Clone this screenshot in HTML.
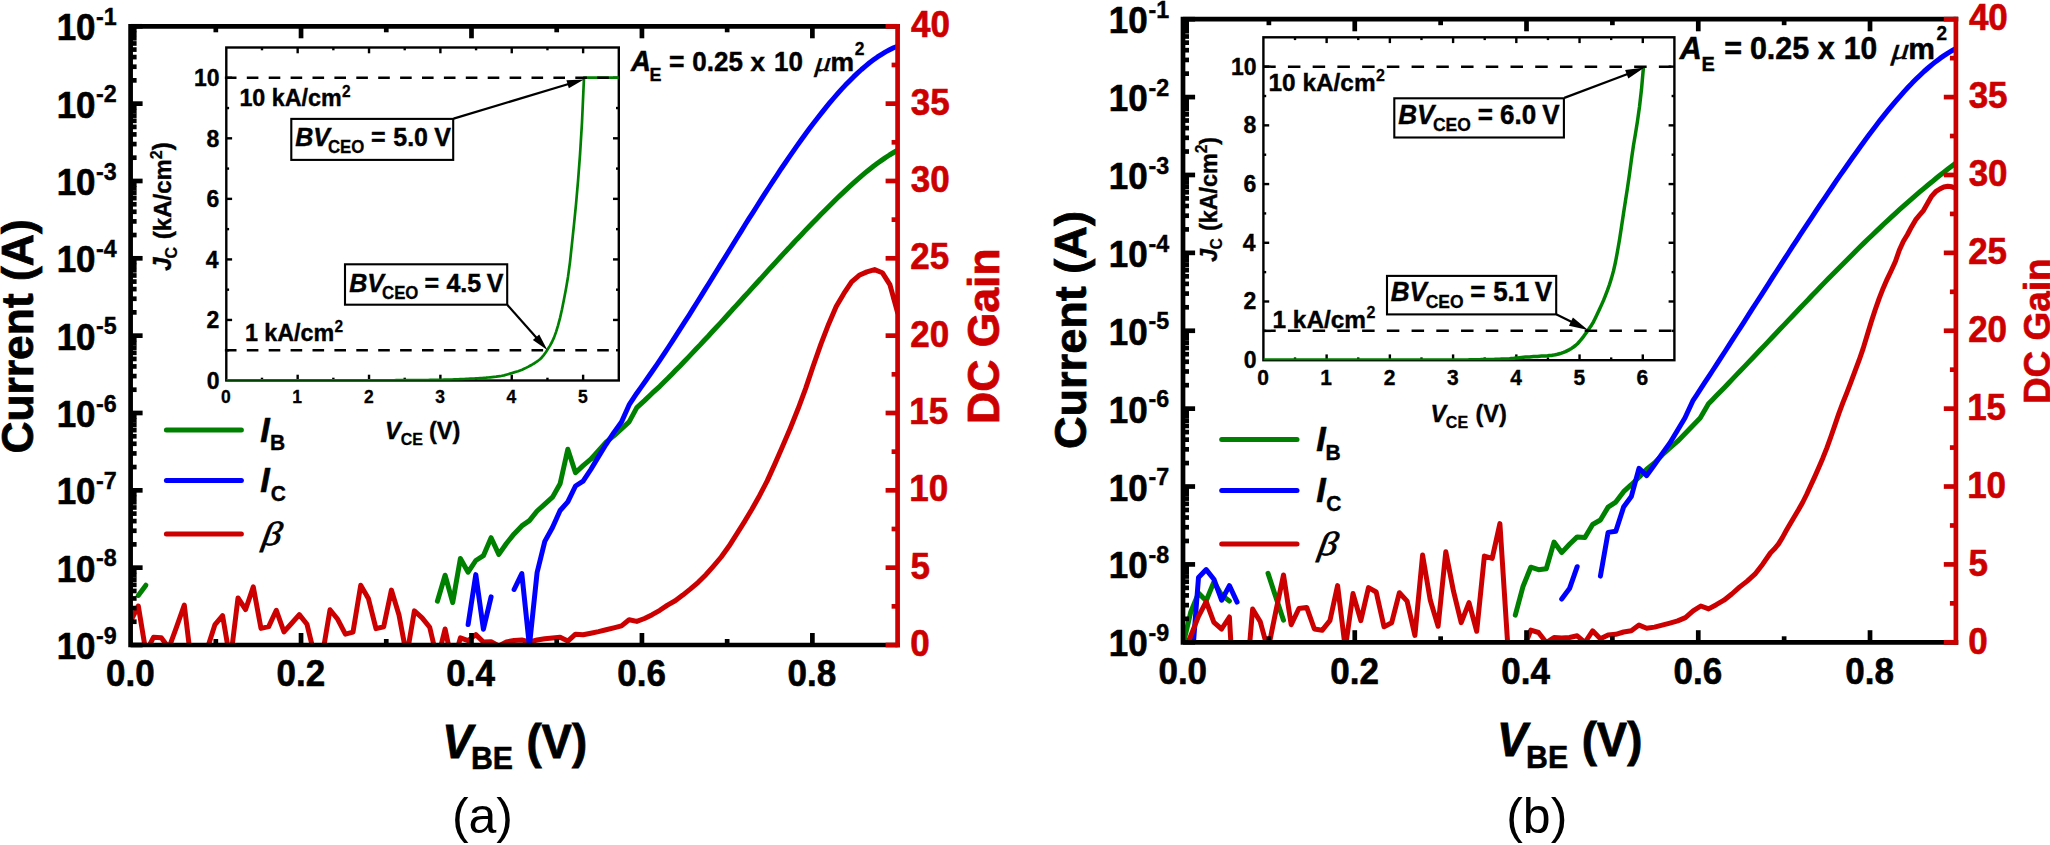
<!DOCTYPE html>
<html><head><meta charset="utf-8"><title>Gummel plots and BVCEO</title>
<style>
html,body{margin:0;padding:0;background:#fff}
body{width:2050px;height:845px;overflow:hidden}
svg{display:block}
text{font-family:"Liberation Sans",sans-serif}
.fb{font-weight:bold}
.fbi{font-weight:bold;font-style:italic}
.fr{font-weight:normal}
.fi{font-style:italic}
.fsi{font-family:"Liberation Serif",serif;font-style:italic}
.fsbi{font-family:"Liberation Serif",serif;font-style:italic;font-weight:bold}
</style></head><body>
<svg width="2050" height="845" viewBox="0 0 2050 845">
<defs>
<clipPath id="ca"><rect x="130.60" y="26.30" width="767.00" height="618.70"/></clipPath>
<clipPath id="cb"><rect x="1183.00" y="19.20" width="772.90" height="623.10"/></clipPath>
<clipPath id="cia"><rect x="226.3" y="47.5" width="392.5" height="333.0"/></clipPath>
<clipPath id="cib"><rect x="1263.4" y="37.3" width="411.0" height="322.9"/></clipPath>
</defs>
<rect width="2050" height="845" fill="#fff"/>
<g id="pa">
<path d="M130.6,621.0 L138.3,606.0 L145.9,652.0 L153.6,637.2 L161.3,637.7 L168.9,648.0 L176.6,626.8 L184.3,605.0 L192.0,669.0 L199.6,655.0 L207.3,648.5 L215.0,624.6 L222.6,615.6 L230.3,661.0 L238.0,598.0 L245.6,609.5 L253.3,586.9 L261.0,628.4 L268.7,626.6 L276.3,610.3 L284.0,631.8 L291.7,623.3 L299.3,614.6 L307.0,624.3 L314.7,656.0 L322.4,655.0 L330.0,609.8 L337.7,619.3 L345.4,634.2 L353.0,632.1 L360.7,585.3 L368.4,598.5 L376.0,628.6 L383.7,626.8 L391.4,590.1 L399.0,615.0 L406.7,656.0 L414.4,610.9 L422.1,617.9 L429.7,627.3 L437.4,660.0 L445.1,629.0 L452.7,665.0 L460.4,637.9 L468.1,640.6 L475.8,634.6 L483.4,642.0 L491.1,641.8 L498.8,646.0 L506.4,642.0 L514.1,640.4 L521.8,640.0 L529.4,641.9 L537.1,640.0 L544.8,638.7 L552.5,638.0 L560.1,637.2 L567.8,641.1 L575.5,634.2 L583.1,634.8 L590.8,633.2 L598.5,631.6 L606.1,629.8 L613.8,627.8 L621.5,625.9 L629.1,619.7 L636.8,621.4 L644.5,618.5 L652.2,614.7 L659.8,610.3 L667.5,605.1 L675.2,600.8 L682.8,595.1 L690.5,588.9 L698.2,582.3 L705.9,574.7 L713.5,566.1 L721.2,557.0 L728.9,546.3 L736.5,534.3 L744.2,522.1 L751.9,509.3 L759.5,495.7 L767.2,480.9 L774.9,463.9 L782.6,446.3 L790.2,428.4 L797.9,409.3 L805.6,388.6 L813.2,366.0 L820.9,344.2 L828.6,324.2 L836.2,306.5 L843.9,293.4 L851.6,281.9 L859.2,275.3 L866.9,271.9 L874.6,269.6 L882.3,272.7 L889.9,284.7 L897.6,312.5" fill="none" stroke="#cc0000" stroke-width="5.00" stroke-linejoin="round" stroke-linecap="round" clip-path="url(#ca)"/>
<path d="M138.3,595.4 L145.9,585.2" fill="none" stroke="#008000" stroke-width="5.00" stroke-linejoin="round" stroke-linecap="round" clip-path="url(#ca)"/>
<path d="M437.4,601.2 L445.1,575.2 L452.7,602.5 L460.4,558.5 L468.1,572.2 L475.8,560.5 L483.4,555.7 L491.1,537.7 L498.8,554.4 L506.4,543.5 L514.1,533.9 L521.8,525.9 L529.4,520.6 L537.1,511.0 L544.8,504.1 L552.5,497.2 L560.1,483.8 L567.8,449.2 L575.5,472.8 L583.1,465.6 L590.8,459.2 L598.5,450.7 L606.1,442.2 L613.8,435.8 L621.5,428.9 L629.1,421.9 L636.8,407.6 L644.5,400.6 L652.2,393.2 L659.8,386.3 L663.8,382.3 L667.9,378.3 L671.9,374.2 L675.9,370.1 L680.0,366.0 L684.0,361.8 L688.0,357.6 L692.0,353.4 L696.1,349.1 L700.1,344.9 L704.1,340.5 L708.2,336.2 L712.2,331.8 L716.2,327.5 L720.3,323.1 L724.3,318.7 L728.3,314.3 L732.3,309.8 L736.4,305.4 L740.4,301.0 L744.4,296.5 L748.5,292.1 L752.5,287.6 L756.5,283.2 L760.6,278.8 L764.6,274.3 L768.6,269.9 L772.7,265.5 L776.7,261.1 L780.7,256.8 L784.7,252.4 L788.8,248.1 L792.8,243.7 L796.8,239.4 L800.9,235.2 L804.9,230.9 L808.9,226.7 L813.0,222.5 L817.0,218.4 L821.0,214.3 L825.1,210.2 L829.1,206.2 L833.1,202.2 L837.1,198.3 L841.2,194.4 L845.2,190.6 L849.2,186.9 L853.3,183.2 L857.3,179.6 L861.3,176.1 L865.4,172.7 L869.4,169.5 L873.4,166.3 L877.4,163.3 L881.5,160.4 L885.5,157.6 L889.5,155.0 L893.6,152.5 L897.6,150.2" fill="none" stroke="#008000" stroke-width="5.00" stroke-linejoin="round" stroke-linecap="round" clip-path="url(#ca)"/>
<path d="M468.1,624.6 L475.8,574.6 L483.4,629.2 L491.1,596.9" fill="none" stroke="#0000ff" stroke-width="5.00" stroke-linejoin="round" stroke-linecap="round" clip-path="url(#ca)"/>
<path d="M514.1,589.5 L521.8,573.6 L529.4,646.0 L537.1,572.5 L544.8,541.4 L552.5,527.5 L560.1,510.5 L567.8,501.9 L575.5,486.0 L583.1,481.2 L590.8,469.5 L598.5,456.6 L606.1,444.3 L613.8,432.6 L621.5,422.0 L629.1,404.9 L636.8,393.2 L640.8,387.6 L644.8,382.0 L648.8,376.3 L652.8,370.5 L656.9,364.6 L660.9,358.7 L664.9,352.6 L668.9,346.5 L672.9,340.4 L676.9,334.2 L680.9,327.9 L684.9,321.6 L689.0,315.3 L693.0,308.9 L697.0,302.5 L701.0,296.1 L705.0,289.6 L709.0,283.2 L713.0,276.7 L717.0,270.2 L721.1,263.7 L725.1,257.2 L729.1,250.7 L733.1,244.2 L737.1,237.7 L741.1,231.3 L745.1,224.8 L749.1,218.4 L753.2,212.1 L757.2,205.7 L761.2,199.4 L765.2,193.2 L769.2,187.0 L773.2,180.8 L777.2,174.8 L781.2,168.7 L785.3,162.8 L789.3,156.9 L793.3,151.1 L797.3,145.4 L801.3,139.8 L805.3,134.2 L809.3,128.8 L813.3,123.5 L817.4,118.2 L821.4,113.1 L825.4,108.1 L829.4,103.2 L833.4,98.5 L837.4,93.9 L841.4,89.4 L845.4,85.1 L849.5,80.9 L853.5,76.9 L857.5,73.1 L861.5,69.5 L865.5,66.1 L869.5,62.8 L873.5,59.8 L877.5,56.9 L881.6,54.3 L885.6,51.9 L889.6,49.8 L893.6,47.8 L897.6,46.2" fill="none" stroke="#0000ff" stroke-width="5.00" stroke-linejoin="round" stroke-linecap="round" clip-path="url(#ca)"/>
</g>
<g id="pb">
<path d="M1183.0,645.2 L1190.7,612.2 L1198.5,593.1 L1206.2,600.7 L1213.9,581.9 L1221.6,595.1 L1229.4,601.0" fill="none" stroke="#008000" stroke-width="5.00" stroke-linejoin="round" stroke-linecap="round" clip-path="url(#cb)"/>
<path d="M1268.0,573.3 L1275.7,596.7 L1283.5,620.2" fill="none" stroke="#008000" stroke-width="5.00" stroke-linejoin="round" stroke-linecap="round" clip-path="url(#cb)"/>
<path d="M1515.3,615.2 L1523.1,586.2 L1530.8,567.2 L1538.5,569.7 L1546.3,568.7 L1554.0,542.1 L1561.7,552.6 L1569.5,544.3 L1577.2,536.9 L1584.9,537.6 L1592.6,524.5 L1600.4,520.0 L1608.1,507.1 L1615.8,502.1 L1623.6,491.7 L1631.3,484.7 L1639.0,477.3 L1646.7,469.3 L1654.5,462.9 L1662.2,454.9 L1669.9,448.0 L1677.7,441.2 L1700.2,418.0 L1708.5,403.8 L1712.5,399.7 L1716.5,395.6 L1720.5,391.5 L1724.5,387.4 L1728.5,383.2 L1732.4,379.1 L1736.4,374.9 L1740.4,370.8 L1744.4,366.6 L1748.4,362.4 L1752.4,358.2 L1756.4,354.0 L1760.4,349.8 L1764.4,345.6 L1768.4,341.4 L1772.3,337.2 L1776.3,333.0 L1780.3,328.8 L1784.3,324.6 L1788.3,320.4 L1792.3,316.2 L1796.3,312.0 L1800.3,307.8 L1804.3,303.6 L1808.3,299.5 L1812.2,295.3 L1816.2,291.2 L1820.2,287.1 L1824.2,282.9 L1828.2,278.8 L1832.2,274.8 L1836.2,270.7 L1840.2,266.7 L1844.2,262.7 L1848.2,258.7 L1852.2,254.7 L1856.1,250.7 L1860.1,246.8 L1864.1,242.9 L1868.1,239.0 L1872.1,235.2 L1876.1,231.4 L1880.1,227.6 L1884.1,223.8 L1888.1,220.1 L1892.1,216.4 L1896.0,212.8 L1900.0,209.2 L1904.0,205.6 L1908.0,202.1 L1912.0,198.6 L1916.0,195.1 L1920.0,191.7 L1924.0,188.3 L1928.0,185.0 L1932.0,181.8 L1935.9,178.5 L1939.9,175.3 L1943.9,172.2 L1947.9,169.1 L1951.9,166.1 L1955.9,163.1" fill="none" stroke="#008000" stroke-width="5.00" stroke-linejoin="round" stroke-linecap="round" clip-path="url(#cb)"/>
<path d="M1190.7,678.0 L1198.5,577.6 L1206.2,569.6 L1213.9,579.2 L1221.6,600.2 L1229.4,585.6 L1237.1,602.1" fill="none" stroke="#0000ff" stroke-width="5.00" stroke-linejoin="round" stroke-linecap="round" clip-path="url(#cb)"/>
<path d="M1561.7,599.0 L1569.5,588.6 L1577.2,566.7" fill="none" stroke="#0000ff" stroke-width="5.00" stroke-linejoin="round" stroke-linecap="round" clip-path="url(#cb)"/>
<path d="M1600.4,576.1 L1608.1,532.4 L1615.8,531.2 L1623.6,507.1 L1631.3,496.6 L1639.0,468.3 L1646.7,475.6 L1654.5,464.8 L1662.2,453.7 L1669.9,443.0 L1684.9,418.0 L1693.1,400.3 L1697.1,394.3 L1701.1,388.2 L1705.0,382.2 L1709.0,376.1 L1713.0,370.0 L1717.0,363.8 L1721.0,357.7 L1725.0,351.5 L1728.9,345.4 L1732.9,339.2 L1736.9,333.0 L1740.9,326.8 L1744.9,320.6 L1748.8,314.4 L1752.8,308.2 L1756.8,302.0 L1760.8,295.8 L1764.8,289.6 L1768.8,283.4 L1772.7,277.2 L1776.7,271.0 L1780.7,264.8 L1784.7,258.7 L1788.7,252.5 L1792.6,246.4 L1796.6,240.3 L1800.6,234.2 L1804.6,228.2 L1808.6,222.1 L1812.6,216.1 L1816.5,210.1 L1820.5,204.2 L1824.5,198.3 L1828.5,192.4 L1832.5,186.5 L1836.4,180.7 L1840.4,174.9 L1844.4,169.2 L1848.4,163.5 L1852.4,157.8 L1856.4,152.2 L1860.3,146.7 L1864.3,141.2 L1868.3,135.8 L1872.3,130.5 L1876.3,125.3 L1880.2,120.1 L1884.2,115.1 L1888.2,110.2 L1892.2,105.3 L1896.2,100.6 L1900.2,96.1 L1904.1,91.6 L1908.1,87.3 L1912.1,83.1 L1916.1,79.1 L1920.1,75.2 L1924.0,71.5 L1928.0,68.0 L1932.0,64.6 L1936.0,61.4 L1940.0,58.4 L1944.0,55.6 L1947.9,53.1 L1951.9,50.7 L1955.9,48.5" fill="none" stroke="#0000ff" stroke-width="5.00" stroke-linejoin="round" stroke-linecap="round" clip-path="url(#cb)"/>
<path d="M1183.0,655.0 L1190.7,636.0 L1198.5,616.4 L1206.2,601.6 L1213.9,622.3 L1221.6,629.0 L1229.4,617.0 L1237.1,750.0 L1244.8,702.0 L1252.6,609.1 L1260.3,621.8 L1268.0,650.0 L1275.7,611.9 L1283.5,575.0 L1291.2,624.7 L1298.9,608.5 L1306.7,607.4 L1314.4,629.0 L1322.1,630.3 L1329.9,620.7 L1337.6,585.6 L1345.3,648.4 L1353.0,593.6 L1360.8,620.6 L1368.5,587.6 L1376.2,592.0 L1384.0,626.8 L1391.7,622.7 L1399.4,592.7 L1407.1,601.1 L1414.9,635.4 L1422.6,555.1 L1430.3,600.3 L1438.1,626.3 L1445.8,551.7 L1453.5,591.2 L1461.2,622.6 L1469.0,602.7 L1476.7,631.3 L1484.4,556.1 L1492.2,558.4 L1499.9,523.6 L1507.6,642.6 L1515.3,655.0 L1523.1,650.0 L1530.8,630.1 L1538.5,632.5 L1546.3,642.5 L1554.0,637.5 L1561.7,638.0 L1569.5,637.5 L1577.2,635.8 L1584.9,642.5 L1592.6,630.8 L1600.4,638.8 L1608.1,635.0 L1615.8,634.3 L1623.6,632.0 L1631.3,630.8 L1639.0,625.1 L1646.7,628.3 L1654.5,627.1 L1662.2,625.1 L1669.9,623.1 L1677.7,620.9 L1685.4,617.6 L1693.1,610.9 L1700.8,606.0 L1708.6,608.9 L1716.3,604.7 L1724.0,600.2 L1731.8,594.0 L1739.5,587.1 L1747.2,581.1 L1754.9,574.2 L1762.7,564.2 L1770.4,553.0 L1774.3,549.1 L1778.4,544.1 L1782.4,537.6 L1786.4,530.3 L1790.5,523.2 L1794.5,516.5 L1798.5,509.8 L1802.6,502.5 L1806.6,494.5 L1810.6,485.8 L1814.7,476.9 L1818.7,467.8 L1822.8,458.2 L1826.8,448.1 L1830.8,437.0 L1834.9,425.1 L1838.9,413.4 L1842.9,402.7 L1847.0,392.3 L1851.0,381.9 L1855.0,371.1 L1859.1,360.2 L1863.1,348.6 L1867.1,335.4 L1871.2,321.9 L1875.2,309.7 L1879.2,298.3 L1883.3,287.9 L1887.3,278.8 L1891.3,270.5 L1895.4,261.5 L1899.4,250.0 L1903.4,241.2 L1907.5,234.5 L1911.5,226.9 L1915.6,219.9 L1919.6,215.0 L1923.6,210.3 L1927.7,203.1 L1931.7,196.1 L1935.7,191.7 L1939.8,189.0 L1943.8,187.0 L1947.8,186.3 L1951.9,186.8 L1955.9,188.3" fill="none" stroke="#cc0000" stroke-width="5.00" stroke-linejoin="round" stroke-linecap="round" clip-path="url(#cb)"/>
</g>
<g id="axa">
<path d="M897.60,26.30 L130.60,26.30 L130.60,645.00 M130.60,645.00 L897.60,645.00" fill="none" stroke="#000" stroke-width="4.70" stroke-linecap="square" stroke-linejoin="miter"/>
<line x1="130.60" y1="26.30" x2="142.60" y2="26.30" stroke="#000" stroke-width="4.70" stroke-linecap="butt"/>
<line x1="130.60" y1="80.36" x2="136.60" y2="80.36" stroke="#000" stroke-width="4.70" stroke-linecap="butt"/>
<line x1="130.60" y1="66.74" x2="136.60" y2="66.74" stroke="#000" stroke-width="4.70" stroke-linecap="butt"/>
<line x1="130.60" y1="57.08" x2="136.60" y2="57.08" stroke="#000" stroke-width="4.70" stroke-linecap="butt"/>
<line x1="130.60" y1="49.58" x2="136.60" y2="49.58" stroke="#000" stroke-width="4.70" stroke-linecap="butt"/>
<line x1="130.60" y1="43.46" x2="136.60" y2="43.46" stroke="#000" stroke-width="4.70" stroke-linecap="butt"/>
<line x1="130.60" y1="38.28" x2="136.60" y2="38.28" stroke="#000" stroke-width="4.70" stroke-linecap="butt"/>
<line x1="130.60" y1="33.79" x2="136.60" y2="33.79" stroke="#000" stroke-width="4.70" stroke-linecap="butt"/>
<line x1="130.60" y1="29.84" x2="136.60" y2="29.84" stroke="#000" stroke-width="4.70" stroke-linecap="butt"/>
<line x1="130.60" y1="103.64" x2="142.60" y2="103.64" stroke="#000" stroke-width="4.70" stroke-linecap="butt"/>
<line x1="130.60" y1="157.69" x2="136.60" y2="157.69" stroke="#000" stroke-width="4.70" stroke-linecap="butt"/>
<line x1="130.60" y1="144.08" x2="136.60" y2="144.08" stroke="#000" stroke-width="4.70" stroke-linecap="butt"/>
<line x1="130.60" y1="134.41" x2="136.60" y2="134.41" stroke="#000" stroke-width="4.70" stroke-linecap="butt"/>
<line x1="130.60" y1="126.92" x2="136.60" y2="126.92" stroke="#000" stroke-width="4.70" stroke-linecap="butt"/>
<line x1="130.60" y1="120.79" x2="136.60" y2="120.79" stroke="#000" stroke-width="4.70" stroke-linecap="butt"/>
<line x1="130.60" y1="115.62" x2="136.60" y2="115.62" stroke="#000" stroke-width="4.70" stroke-linecap="butt"/>
<line x1="130.60" y1="111.13" x2="136.60" y2="111.13" stroke="#000" stroke-width="4.70" stroke-linecap="butt"/>
<line x1="130.60" y1="107.18" x2="136.60" y2="107.18" stroke="#000" stroke-width="4.70" stroke-linecap="butt"/>
<line x1="130.60" y1="180.98" x2="142.60" y2="180.98" stroke="#000" stroke-width="4.70" stroke-linecap="butt"/>
<line x1="130.60" y1="235.03" x2="136.60" y2="235.03" stroke="#000" stroke-width="4.70" stroke-linecap="butt"/>
<line x1="130.60" y1="221.41" x2="136.60" y2="221.41" stroke="#000" stroke-width="4.70" stroke-linecap="butt"/>
<line x1="130.60" y1="211.75" x2="136.60" y2="211.75" stroke="#000" stroke-width="4.70" stroke-linecap="butt"/>
<line x1="130.60" y1="204.26" x2="136.60" y2="204.26" stroke="#000" stroke-width="4.70" stroke-linecap="butt"/>
<line x1="130.60" y1="198.13" x2="136.60" y2="198.13" stroke="#000" stroke-width="4.70" stroke-linecap="butt"/>
<line x1="130.60" y1="192.95" x2="136.60" y2="192.95" stroke="#000" stroke-width="4.70" stroke-linecap="butt"/>
<line x1="130.60" y1="188.47" x2="136.60" y2="188.47" stroke="#000" stroke-width="4.70" stroke-linecap="butt"/>
<line x1="130.60" y1="184.51" x2="136.60" y2="184.51" stroke="#000" stroke-width="4.70" stroke-linecap="butt"/>
<line x1="130.60" y1="258.31" x2="142.60" y2="258.31" stroke="#000" stroke-width="4.70" stroke-linecap="butt"/>
<line x1="130.60" y1="312.37" x2="136.60" y2="312.37" stroke="#000" stroke-width="4.70" stroke-linecap="butt"/>
<line x1="130.60" y1="298.75" x2="136.60" y2="298.75" stroke="#000" stroke-width="4.70" stroke-linecap="butt"/>
<line x1="130.60" y1="289.09" x2="136.60" y2="289.09" stroke="#000" stroke-width="4.70" stroke-linecap="butt"/>
<line x1="130.60" y1="281.59" x2="136.60" y2="281.59" stroke="#000" stroke-width="4.70" stroke-linecap="butt"/>
<line x1="130.60" y1="275.47" x2="136.60" y2="275.47" stroke="#000" stroke-width="4.70" stroke-linecap="butt"/>
<line x1="130.60" y1="270.29" x2="136.60" y2="270.29" stroke="#000" stroke-width="4.70" stroke-linecap="butt"/>
<line x1="130.60" y1="265.81" x2="136.60" y2="265.81" stroke="#000" stroke-width="4.70" stroke-linecap="butt"/>
<line x1="130.60" y1="261.85" x2="136.60" y2="261.85" stroke="#000" stroke-width="4.70" stroke-linecap="butt"/>
<line x1="130.60" y1="335.65" x2="142.60" y2="335.65" stroke="#000" stroke-width="4.70" stroke-linecap="butt"/>
<line x1="130.60" y1="389.71" x2="136.60" y2="389.71" stroke="#000" stroke-width="4.70" stroke-linecap="butt"/>
<line x1="130.60" y1="376.09" x2="136.60" y2="376.09" stroke="#000" stroke-width="4.70" stroke-linecap="butt"/>
<line x1="130.60" y1="366.43" x2="136.60" y2="366.43" stroke="#000" stroke-width="4.70" stroke-linecap="butt"/>
<line x1="130.60" y1="358.93" x2="136.60" y2="358.93" stroke="#000" stroke-width="4.70" stroke-linecap="butt"/>
<line x1="130.60" y1="352.81" x2="136.60" y2="352.81" stroke="#000" stroke-width="4.70" stroke-linecap="butt"/>
<line x1="130.60" y1="347.63" x2="136.60" y2="347.63" stroke="#000" stroke-width="4.70" stroke-linecap="butt"/>
<line x1="130.60" y1="343.14" x2="136.60" y2="343.14" stroke="#000" stroke-width="4.70" stroke-linecap="butt"/>
<line x1="130.60" y1="339.19" x2="136.60" y2="339.19" stroke="#000" stroke-width="4.70" stroke-linecap="butt"/>
<line x1="130.60" y1="412.99" x2="142.60" y2="412.99" stroke="#000" stroke-width="4.70" stroke-linecap="butt"/>
<line x1="130.60" y1="467.04" x2="136.60" y2="467.04" stroke="#000" stroke-width="4.70" stroke-linecap="butt"/>
<line x1="130.60" y1="453.43" x2="136.60" y2="453.43" stroke="#000" stroke-width="4.70" stroke-linecap="butt"/>
<line x1="130.60" y1="443.76" x2="136.60" y2="443.76" stroke="#000" stroke-width="4.70" stroke-linecap="butt"/>
<line x1="130.60" y1="436.27" x2="136.60" y2="436.27" stroke="#000" stroke-width="4.70" stroke-linecap="butt"/>
<line x1="130.60" y1="430.14" x2="136.60" y2="430.14" stroke="#000" stroke-width="4.70" stroke-linecap="butt"/>
<line x1="130.60" y1="424.97" x2="136.60" y2="424.97" stroke="#000" stroke-width="4.70" stroke-linecap="butt"/>
<line x1="130.60" y1="420.48" x2="136.60" y2="420.48" stroke="#000" stroke-width="4.70" stroke-linecap="butt"/>
<line x1="130.60" y1="416.53" x2="136.60" y2="416.53" stroke="#000" stroke-width="4.70" stroke-linecap="butt"/>
<line x1="130.60" y1="490.33" x2="142.60" y2="490.33" stroke="#000" stroke-width="4.70" stroke-linecap="butt"/>
<line x1="130.60" y1="544.38" x2="136.60" y2="544.38" stroke="#000" stroke-width="4.70" stroke-linecap="butt"/>
<line x1="130.60" y1="530.76" x2="136.60" y2="530.76" stroke="#000" stroke-width="4.70" stroke-linecap="butt"/>
<line x1="130.60" y1="521.10" x2="136.60" y2="521.10" stroke="#000" stroke-width="4.70" stroke-linecap="butt"/>
<line x1="130.60" y1="513.61" x2="136.60" y2="513.61" stroke="#000" stroke-width="4.70" stroke-linecap="butt"/>
<line x1="130.60" y1="507.48" x2="136.60" y2="507.48" stroke="#000" stroke-width="4.70" stroke-linecap="butt"/>
<line x1="130.60" y1="502.30" x2="136.60" y2="502.30" stroke="#000" stroke-width="4.70" stroke-linecap="butt"/>
<line x1="130.60" y1="497.82" x2="136.60" y2="497.82" stroke="#000" stroke-width="4.70" stroke-linecap="butt"/>
<line x1="130.60" y1="493.86" x2="136.60" y2="493.86" stroke="#000" stroke-width="4.70" stroke-linecap="butt"/>
<line x1="130.60" y1="567.66" x2="142.60" y2="567.66" stroke="#000" stroke-width="4.70" stroke-linecap="butt"/>
<line x1="130.60" y1="621.72" x2="136.60" y2="621.72" stroke="#000" stroke-width="4.70" stroke-linecap="butt"/>
<line x1="130.60" y1="608.10" x2="136.60" y2="608.10" stroke="#000" stroke-width="4.70" stroke-linecap="butt"/>
<line x1="130.60" y1="598.44" x2="136.60" y2="598.44" stroke="#000" stroke-width="4.70" stroke-linecap="butt"/>
<line x1="130.60" y1="590.94" x2="136.60" y2="590.94" stroke="#000" stroke-width="4.70" stroke-linecap="butt"/>
<line x1="130.60" y1="584.82" x2="136.60" y2="584.82" stroke="#000" stroke-width="4.70" stroke-linecap="butt"/>
<line x1="130.60" y1="579.64" x2="136.60" y2="579.64" stroke="#000" stroke-width="4.70" stroke-linecap="butt"/>
<line x1="130.60" y1="575.16" x2="136.60" y2="575.16" stroke="#000" stroke-width="4.70" stroke-linecap="butt"/>
<line x1="130.60" y1="571.20" x2="136.60" y2="571.20" stroke="#000" stroke-width="4.70" stroke-linecap="butt"/>
<line x1="130.60" y1="645.00" x2="142.60" y2="645.00" stroke="#000" stroke-width="4.70" stroke-linecap="butt"/>
<line x1="215.82" y1="26.30" x2="215.82" y2="32.30" stroke="#000" stroke-width="4.70" stroke-linecap="butt"/>
<line x1="215.82" y1="645.00" x2="215.82" y2="639.00" stroke="#000" stroke-width="4.70" stroke-linecap="butt"/>
<line x1="301.04" y1="26.30" x2="301.04" y2="38.30" stroke="#000" stroke-width="4.70" stroke-linecap="butt"/>
<line x1="301.04" y1="645.00" x2="301.04" y2="633.00" stroke="#000" stroke-width="4.70" stroke-linecap="butt"/>
<line x1="386.27" y1="26.30" x2="386.27" y2="32.30" stroke="#000" stroke-width="4.70" stroke-linecap="butt"/>
<line x1="386.27" y1="645.00" x2="386.27" y2="639.00" stroke="#000" stroke-width="4.70" stroke-linecap="butt"/>
<line x1="471.49" y1="26.30" x2="471.49" y2="38.30" stroke="#000" stroke-width="4.70" stroke-linecap="butt"/>
<line x1="471.49" y1="645.00" x2="471.49" y2="633.00" stroke="#000" stroke-width="4.70" stroke-linecap="butt"/>
<line x1="556.71" y1="26.30" x2="556.71" y2="32.30" stroke="#000" stroke-width="4.70" stroke-linecap="butt"/>
<line x1="556.71" y1="645.00" x2="556.71" y2="639.00" stroke="#000" stroke-width="4.70" stroke-linecap="butt"/>
<line x1="641.93" y1="26.30" x2="641.93" y2="38.30" stroke="#000" stroke-width="4.70" stroke-linecap="butt"/>
<line x1="641.93" y1="645.00" x2="641.93" y2="633.00" stroke="#000" stroke-width="4.70" stroke-linecap="butt"/>
<line x1="727.16" y1="26.30" x2="727.16" y2="32.30" stroke="#000" stroke-width="4.70" stroke-linecap="butt"/>
<line x1="727.16" y1="645.00" x2="727.16" y2="639.00" stroke="#000" stroke-width="4.70" stroke-linecap="butt"/>
<line x1="812.38" y1="26.30" x2="812.38" y2="38.30" stroke="#000" stroke-width="4.70" stroke-linecap="butt"/>
<line x1="812.38" y1="645.00" x2="812.38" y2="633.00" stroke="#000" stroke-width="4.70" stroke-linecap="butt"/>
<line x1="897.60" y1="23.95" x2="897.60" y2="647.35" stroke="#cc0000" stroke-width="4.70" stroke-linecap="butt"/>
<line x1="897.60" y1="645.00" x2="885.60" y2="645.00" stroke="#cc0000" stroke-width="4.70" stroke-linecap="butt"/>
<line x1="897.60" y1="606.33" x2="891.60" y2="606.33" stroke="#cc0000" stroke-width="4.70" stroke-linecap="butt"/>
<line x1="897.60" y1="567.66" x2="885.60" y2="567.66" stroke="#cc0000" stroke-width="4.70" stroke-linecap="butt"/>
<line x1="897.60" y1="528.99" x2="891.60" y2="528.99" stroke="#cc0000" stroke-width="4.70" stroke-linecap="butt"/>
<line x1="897.60" y1="490.32" x2="885.60" y2="490.32" stroke="#cc0000" stroke-width="4.70" stroke-linecap="butt"/>
<line x1="897.60" y1="451.66" x2="891.60" y2="451.66" stroke="#cc0000" stroke-width="4.70" stroke-linecap="butt"/>
<line x1="897.60" y1="412.99" x2="885.60" y2="412.99" stroke="#cc0000" stroke-width="4.70" stroke-linecap="butt"/>
<line x1="897.60" y1="374.32" x2="891.60" y2="374.32" stroke="#cc0000" stroke-width="4.70" stroke-linecap="butt"/>
<line x1="897.60" y1="335.65" x2="885.60" y2="335.65" stroke="#cc0000" stroke-width="4.70" stroke-linecap="butt"/>
<line x1="897.60" y1="296.98" x2="891.60" y2="296.98" stroke="#cc0000" stroke-width="4.70" stroke-linecap="butt"/>
<line x1="897.60" y1="258.31" x2="885.60" y2="258.31" stroke="#cc0000" stroke-width="4.70" stroke-linecap="butt"/>
<line x1="897.60" y1="219.64" x2="891.60" y2="219.64" stroke="#cc0000" stroke-width="4.70" stroke-linecap="butt"/>
<line x1="897.60" y1="180.97" x2="885.60" y2="180.97" stroke="#cc0000" stroke-width="4.70" stroke-linecap="butt"/>
<line x1="897.60" y1="142.31" x2="891.60" y2="142.31" stroke="#cc0000" stroke-width="4.70" stroke-linecap="butt"/>
<line x1="897.60" y1="103.64" x2="885.60" y2="103.64" stroke="#cc0000" stroke-width="4.70" stroke-linecap="butt"/>
<line x1="897.60" y1="64.97" x2="891.60" y2="64.97" stroke="#cc0000" stroke-width="4.70" stroke-linecap="butt"/>
<line x1="897.60" y1="26.30" x2="885.60" y2="26.30" stroke="#cc0000" stroke-width="4.70" stroke-linecap="butt"/>
</g>
<g id="axb">
<path d="M1955.90,19.20 L1183.00,19.20 L1183.00,642.30 M1183.00,642.30 L1955.90,642.30" fill="none" stroke="#000" stroke-width="4.70" stroke-linecap="square" stroke-linejoin="miter"/>
<line x1="1183.00" y1="19.20" x2="1195.10" y2="19.20" stroke="#000" stroke-width="4.70" stroke-linecap="butt"/>
<line x1="1183.00" y1="73.64" x2="1189.00" y2="73.64" stroke="#000" stroke-width="4.70" stroke-linecap="butt"/>
<line x1="1183.00" y1="59.93" x2="1189.00" y2="59.93" stroke="#000" stroke-width="4.70" stroke-linecap="butt"/>
<line x1="1183.00" y1="50.19" x2="1189.00" y2="50.19" stroke="#000" stroke-width="4.70" stroke-linecap="butt"/>
<line x1="1183.00" y1="42.65" x2="1189.00" y2="42.65" stroke="#000" stroke-width="4.70" stroke-linecap="butt"/>
<line x1="1183.00" y1="36.48" x2="1189.00" y2="36.48" stroke="#000" stroke-width="4.70" stroke-linecap="butt"/>
<line x1="1183.00" y1="31.26" x2="1189.00" y2="31.26" stroke="#000" stroke-width="4.70" stroke-linecap="butt"/>
<line x1="1183.00" y1="26.75" x2="1189.00" y2="26.75" stroke="#000" stroke-width="4.70" stroke-linecap="butt"/>
<line x1="1183.00" y1="22.76" x2="1189.00" y2="22.76" stroke="#000" stroke-width="4.70" stroke-linecap="butt"/>
<line x1="1183.00" y1="97.09" x2="1195.10" y2="97.09" stroke="#000" stroke-width="4.70" stroke-linecap="butt"/>
<line x1="1183.00" y1="151.53" x2="1189.00" y2="151.53" stroke="#000" stroke-width="4.70" stroke-linecap="butt"/>
<line x1="1183.00" y1="137.81" x2="1189.00" y2="137.81" stroke="#000" stroke-width="4.70" stroke-linecap="butt"/>
<line x1="1183.00" y1="128.08" x2="1189.00" y2="128.08" stroke="#000" stroke-width="4.70" stroke-linecap="butt"/>
<line x1="1183.00" y1="120.53" x2="1189.00" y2="120.53" stroke="#000" stroke-width="4.70" stroke-linecap="butt"/>
<line x1="1183.00" y1="114.37" x2="1189.00" y2="114.37" stroke="#000" stroke-width="4.70" stroke-linecap="butt"/>
<line x1="1183.00" y1="109.15" x2="1189.00" y2="109.15" stroke="#000" stroke-width="4.70" stroke-linecap="butt"/>
<line x1="1183.00" y1="104.64" x2="1189.00" y2="104.64" stroke="#000" stroke-width="4.70" stroke-linecap="butt"/>
<line x1="1183.00" y1="100.65" x2="1189.00" y2="100.65" stroke="#000" stroke-width="4.70" stroke-linecap="butt"/>
<line x1="1183.00" y1="174.97" x2="1195.10" y2="174.97" stroke="#000" stroke-width="4.70" stroke-linecap="butt"/>
<line x1="1183.00" y1="229.42" x2="1189.00" y2="229.42" stroke="#000" stroke-width="4.70" stroke-linecap="butt"/>
<line x1="1183.00" y1="215.70" x2="1189.00" y2="215.70" stroke="#000" stroke-width="4.70" stroke-linecap="butt"/>
<line x1="1183.00" y1="205.97" x2="1189.00" y2="205.97" stroke="#000" stroke-width="4.70" stroke-linecap="butt"/>
<line x1="1183.00" y1="198.42" x2="1189.00" y2="198.42" stroke="#000" stroke-width="4.70" stroke-linecap="butt"/>
<line x1="1183.00" y1="192.25" x2="1189.00" y2="192.25" stroke="#000" stroke-width="4.70" stroke-linecap="butt"/>
<line x1="1183.00" y1="187.04" x2="1189.00" y2="187.04" stroke="#000" stroke-width="4.70" stroke-linecap="butt"/>
<line x1="1183.00" y1="182.52" x2="1189.00" y2="182.52" stroke="#000" stroke-width="4.70" stroke-linecap="butt"/>
<line x1="1183.00" y1="178.54" x2="1189.00" y2="178.54" stroke="#000" stroke-width="4.70" stroke-linecap="butt"/>
<line x1="1183.00" y1="252.86" x2="1195.10" y2="252.86" stroke="#000" stroke-width="4.70" stroke-linecap="butt"/>
<line x1="1183.00" y1="307.30" x2="1189.00" y2="307.30" stroke="#000" stroke-width="4.70" stroke-linecap="butt"/>
<line x1="1183.00" y1="293.59" x2="1189.00" y2="293.59" stroke="#000" stroke-width="4.70" stroke-linecap="butt"/>
<line x1="1183.00" y1="283.86" x2="1189.00" y2="283.86" stroke="#000" stroke-width="4.70" stroke-linecap="butt"/>
<line x1="1183.00" y1="276.31" x2="1189.00" y2="276.31" stroke="#000" stroke-width="4.70" stroke-linecap="butt"/>
<line x1="1183.00" y1="270.14" x2="1189.00" y2="270.14" stroke="#000" stroke-width="4.70" stroke-linecap="butt"/>
<line x1="1183.00" y1="264.93" x2="1189.00" y2="264.93" stroke="#000" stroke-width="4.70" stroke-linecap="butt"/>
<line x1="1183.00" y1="260.41" x2="1189.00" y2="260.41" stroke="#000" stroke-width="4.70" stroke-linecap="butt"/>
<line x1="1183.00" y1="256.43" x2="1189.00" y2="256.43" stroke="#000" stroke-width="4.70" stroke-linecap="butt"/>
<line x1="1183.00" y1="330.75" x2="1195.10" y2="330.75" stroke="#000" stroke-width="4.70" stroke-linecap="butt"/>
<line x1="1183.00" y1="385.19" x2="1189.00" y2="385.19" stroke="#000" stroke-width="4.70" stroke-linecap="butt"/>
<line x1="1183.00" y1="371.48" x2="1189.00" y2="371.48" stroke="#000" stroke-width="4.70" stroke-linecap="butt"/>
<line x1="1183.00" y1="361.74" x2="1189.00" y2="361.74" stroke="#000" stroke-width="4.70" stroke-linecap="butt"/>
<line x1="1183.00" y1="354.20" x2="1189.00" y2="354.20" stroke="#000" stroke-width="4.70" stroke-linecap="butt"/>
<line x1="1183.00" y1="348.03" x2="1189.00" y2="348.03" stroke="#000" stroke-width="4.70" stroke-linecap="butt"/>
<line x1="1183.00" y1="342.81" x2="1189.00" y2="342.81" stroke="#000" stroke-width="4.70" stroke-linecap="butt"/>
<line x1="1183.00" y1="338.30" x2="1189.00" y2="338.30" stroke="#000" stroke-width="4.70" stroke-linecap="butt"/>
<line x1="1183.00" y1="334.31" x2="1189.00" y2="334.31" stroke="#000" stroke-width="4.70" stroke-linecap="butt"/>
<line x1="1183.00" y1="408.64" x2="1195.10" y2="408.64" stroke="#000" stroke-width="4.70" stroke-linecap="butt"/>
<line x1="1183.00" y1="463.08" x2="1189.00" y2="463.08" stroke="#000" stroke-width="4.70" stroke-linecap="butt"/>
<line x1="1183.00" y1="449.36" x2="1189.00" y2="449.36" stroke="#000" stroke-width="4.70" stroke-linecap="butt"/>
<line x1="1183.00" y1="439.63" x2="1189.00" y2="439.63" stroke="#000" stroke-width="4.70" stroke-linecap="butt"/>
<line x1="1183.00" y1="432.08" x2="1189.00" y2="432.08" stroke="#000" stroke-width="4.70" stroke-linecap="butt"/>
<line x1="1183.00" y1="425.92" x2="1189.00" y2="425.92" stroke="#000" stroke-width="4.70" stroke-linecap="butt"/>
<line x1="1183.00" y1="420.70" x2="1189.00" y2="420.70" stroke="#000" stroke-width="4.70" stroke-linecap="butt"/>
<line x1="1183.00" y1="416.19" x2="1189.00" y2="416.19" stroke="#000" stroke-width="4.70" stroke-linecap="butt"/>
<line x1="1183.00" y1="412.20" x2="1189.00" y2="412.20" stroke="#000" stroke-width="4.70" stroke-linecap="butt"/>
<line x1="1183.00" y1="486.52" x2="1195.10" y2="486.52" stroke="#000" stroke-width="4.70" stroke-linecap="butt"/>
<line x1="1183.00" y1="540.97" x2="1189.00" y2="540.97" stroke="#000" stroke-width="4.70" stroke-linecap="butt"/>
<line x1="1183.00" y1="527.25" x2="1189.00" y2="527.25" stroke="#000" stroke-width="4.70" stroke-linecap="butt"/>
<line x1="1183.00" y1="517.52" x2="1189.00" y2="517.52" stroke="#000" stroke-width="4.70" stroke-linecap="butt"/>
<line x1="1183.00" y1="509.97" x2="1189.00" y2="509.97" stroke="#000" stroke-width="4.70" stroke-linecap="butt"/>
<line x1="1183.00" y1="503.80" x2="1189.00" y2="503.80" stroke="#000" stroke-width="4.70" stroke-linecap="butt"/>
<line x1="1183.00" y1="498.59" x2="1189.00" y2="498.59" stroke="#000" stroke-width="4.70" stroke-linecap="butt"/>
<line x1="1183.00" y1="494.07" x2="1189.00" y2="494.07" stroke="#000" stroke-width="4.70" stroke-linecap="butt"/>
<line x1="1183.00" y1="490.09" x2="1189.00" y2="490.09" stroke="#000" stroke-width="4.70" stroke-linecap="butt"/>
<line x1="1183.00" y1="564.41" x2="1195.10" y2="564.41" stroke="#000" stroke-width="4.70" stroke-linecap="butt"/>
<line x1="1183.00" y1="618.85" x2="1189.00" y2="618.85" stroke="#000" stroke-width="4.70" stroke-linecap="butt"/>
<line x1="1183.00" y1="605.14" x2="1189.00" y2="605.14" stroke="#000" stroke-width="4.70" stroke-linecap="butt"/>
<line x1="1183.00" y1="595.41" x2="1189.00" y2="595.41" stroke="#000" stroke-width="4.70" stroke-linecap="butt"/>
<line x1="1183.00" y1="587.86" x2="1189.00" y2="587.86" stroke="#000" stroke-width="4.70" stroke-linecap="butt"/>
<line x1="1183.00" y1="581.69" x2="1189.00" y2="581.69" stroke="#000" stroke-width="4.70" stroke-linecap="butt"/>
<line x1="1183.00" y1="576.48" x2="1189.00" y2="576.48" stroke="#000" stroke-width="4.70" stroke-linecap="butt"/>
<line x1="1183.00" y1="571.96" x2="1189.00" y2="571.96" stroke="#000" stroke-width="4.70" stroke-linecap="butt"/>
<line x1="1183.00" y1="567.98" x2="1189.00" y2="567.98" stroke="#000" stroke-width="4.70" stroke-linecap="butt"/>
<line x1="1183.00" y1="642.30" x2="1195.10" y2="642.30" stroke="#000" stroke-width="4.70" stroke-linecap="butt"/>
<line x1="1268.88" y1="19.20" x2="1268.88" y2="25.20" stroke="#000" stroke-width="4.70" stroke-linecap="butt"/>
<line x1="1268.88" y1="642.30" x2="1268.88" y2="636.30" stroke="#000" stroke-width="4.70" stroke-linecap="butt"/>
<line x1="1354.76" y1="19.20" x2="1354.76" y2="31.30" stroke="#000" stroke-width="4.70" stroke-linecap="butt"/>
<line x1="1354.76" y1="642.30" x2="1354.76" y2="630.20" stroke="#000" stroke-width="4.70" stroke-linecap="butt"/>
<line x1="1440.63" y1="19.20" x2="1440.63" y2="25.20" stroke="#000" stroke-width="4.70" stroke-linecap="butt"/>
<line x1="1440.63" y1="642.30" x2="1440.63" y2="636.30" stroke="#000" stroke-width="4.70" stroke-linecap="butt"/>
<line x1="1526.51" y1="19.20" x2="1526.51" y2="31.30" stroke="#000" stroke-width="4.70" stroke-linecap="butt"/>
<line x1="1526.51" y1="642.30" x2="1526.51" y2="630.20" stroke="#000" stroke-width="4.70" stroke-linecap="butt"/>
<line x1="1612.39" y1="19.20" x2="1612.39" y2="25.20" stroke="#000" stroke-width="4.70" stroke-linecap="butt"/>
<line x1="1612.39" y1="642.30" x2="1612.39" y2="636.30" stroke="#000" stroke-width="4.70" stroke-linecap="butt"/>
<line x1="1698.27" y1="19.20" x2="1698.27" y2="31.30" stroke="#000" stroke-width="4.70" stroke-linecap="butt"/>
<line x1="1698.27" y1="642.30" x2="1698.27" y2="630.20" stroke="#000" stroke-width="4.70" stroke-linecap="butt"/>
<line x1="1784.14" y1="19.20" x2="1784.14" y2="25.20" stroke="#000" stroke-width="4.70" stroke-linecap="butt"/>
<line x1="1784.14" y1="642.30" x2="1784.14" y2="636.30" stroke="#000" stroke-width="4.70" stroke-linecap="butt"/>
<line x1="1870.02" y1="19.20" x2="1870.02" y2="31.30" stroke="#000" stroke-width="4.70" stroke-linecap="butt"/>
<line x1="1870.02" y1="642.30" x2="1870.02" y2="630.20" stroke="#000" stroke-width="4.70" stroke-linecap="butt"/>
<line x1="1955.90" y1="16.85" x2="1955.90" y2="644.65" stroke="#cc0000" stroke-width="4.70" stroke-linecap="butt"/>
<line x1="1955.90" y1="642.30" x2="1943.80" y2="642.30" stroke="#cc0000" stroke-width="4.70" stroke-linecap="butt"/>
<line x1="1955.90" y1="603.36" x2="1949.90" y2="603.36" stroke="#cc0000" stroke-width="4.70" stroke-linecap="butt"/>
<line x1="1955.90" y1="564.41" x2="1943.80" y2="564.41" stroke="#cc0000" stroke-width="4.70" stroke-linecap="butt"/>
<line x1="1955.90" y1="525.47" x2="1949.90" y2="525.47" stroke="#cc0000" stroke-width="4.70" stroke-linecap="butt"/>
<line x1="1955.90" y1="486.52" x2="1943.80" y2="486.52" stroke="#cc0000" stroke-width="4.70" stroke-linecap="butt"/>
<line x1="1955.90" y1="447.58" x2="1949.90" y2="447.58" stroke="#cc0000" stroke-width="4.70" stroke-linecap="butt"/>
<line x1="1955.90" y1="408.64" x2="1943.80" y2="408.64" stroke="#cc0000" stroke-width="4.70" stroke-linecap="butt"/>
<line x1="1955.90" y1="369.69" x2="1949.90" y2="369.69" stroke="#cc0000" stroke-width="4.70" stroke-linecap="butt"/>
<line x1="1955.90" y1="330.75" x2="1943.80" y2="330.75" stroke="#cc0000" stroke-width="4.70" stroke-linecap="butt"/>
<line x1="1955.90" y1="291.81" x2="1949.90" y2="291.81" stroke="#cc0000" stroke-width="4.70" stroke-linecap="butt"/>
<line x1="1955.90" y1="252.86" x2="1943.80" y2="252.86" stroke="#cc0000" stroke-width="4.70" stroke-linecap="butt"/>
<line x1="1955.90" y1="213.92" x2="1949.90" y2="213.92" stroke="#cc0000" stroke-width="4.70" stroke-linecap="butt"/>
<line x1="1955.90" y1="174.98" x2="1943.80" y2="174.98" stroke="#cc0000" stroke-width="4.70" stroke-linecap="butt"/>
<line x1="1955.90" y1="136.03" x2="1949.90" y2="136.03" stroke="#cc0000" stroke-width="4.70" stroke-linecap="butt"/>
<line x1="1955.90" y1="97.09" x2="1943.80" y2="97.09" stroke="#cc0000" stroke-width="4.70" stroke-linecap="butt"/>
<line x1="1955.90" y1="58.14" x2="1949.90" y2="58.14" stroke="#cc0000" stroke-width="4.70" stroke-linecap="butt"/>
<line x1="1955.90" y1="19.20" x2="1943.80" y2="19.20" stroke="#cc0000" stroke-width="4.70" stroke-linecap="butt"/>
</g>
<g id="laba">
<text class="fb" transform="translate(56.65,40.30) scale(1,1.040)" font-size="35.00" stroke="#000" stroke-width="0.60">10</text>
<text class="fb" transform="translate(96.10,25.00) scale(1,1.040)" font-size="23.30" stroke="#000" stroke-width="0.40">-1</text>
<text class="fb" transform="translate(56.65,117.64) scale(1,1.040)" font-size="35.00" stroke="#000" stroke-width="0.60">10</text>
<text class="fb" transform="translate(96.10,102.34) scale(1,1.040)" font-size="23.30" stroke="#000" stroke-width="0.40">-2</text>
<text class="fb" transform="translate(56.65,194.98) scale(1,1.040)" font-size="35.00" stroke="#000" stroke-width="0.60">10</text>
<text class="fb" transform="translate(96.10,179.68) scale(1,1.040)" font-size="23.30" stroke="#000" stroke-width="0.40">-3</text>
<text class="fb" transform="translate(56.65,272.31) scale(1,1.040)" font-size="35.00" stroke="#000" stroke-width="0.60">10</text>
<text class="fb" transform="translate(96.10,257.01) scale(1,1.040)" font-size="23.30" stroke="#000" stroke-width="0.40">-4</text>
<text class="fb" transform="translate(56.65,349.65) scale(1,1.040)" font-size="35.00" stroke="#000" stroke-width="0.60">10</text>
<text class="fb" transform="translate(96.10,334.35) scale(1,1.040)" font-size="23.30" stroke="#000" stroke-width="0.40">-5</text>
<text class="fb" transform="translate(56.65,426.99) scale(1,1.040)" font-size="35.00" stroke="#000" stroke-width="0.60">10</text>
<text class="fb" transform="translate(96.10,411.69) scale(1,1.040)" font-size="23.30" stroke="#000" stroke-width="0.40">-6</text>
<text class="fb" transform="translate(56.65,504.33) scale(1,1.040)" font-size="35.00" stroke="#000" stroke-width="0.60">10</text>
<text class="fb" transform="translate(96.10,489.03) scale(1,1.040)" font-size="23.30" stroke="#000" stroke-width="0.40">-7</text>
<text class="fb" transform="translate(56.65,581.66) scale(1,1.040)" font-size="35.00" stroke="#000" stroke-width="0.60">10</text>
<text class="fb" transform="translate(96.10,566.36) scale(1,1.040)" font-size="23.30" stroke="#000" stroke-width="0.40">-8</text>
<text class="fb" transform="translate(56.65,659.00) scale(1,1.040)" font-size="35.00" stroke="#000" stroke-width="0.60">10</text>
<text class="fb" transform="translate(96.10,643.70) scale(1,1.040)" font-size="23.30" stroke="#000" stroke-width="0.40">-9</text>
<text class="fb" transform="translate(106.05,686.30) scale(1,1.040)" font-size="35.00" stroke="#000" stroke-width="0.60">0.0</text>
<text class="fb" transform="translate(276.49,686.30) scale(1,1.040)" font-size="35.00" stroke="#000" stroke-width="0.60">0.2</text>
<text class="fb" transform="translate(446.31,686.30) scale(1,1.040)" font-size="35.00" stroke="#000" stroke-width="0.60">0.4</text>
<text class="fb" transform="translate(617.26,686.30) scale(1,1.040)" font-size="35.00" stroke="#000" stroke-width="0.60">0.6</text>
<text class="fb" transform="translate(787.58,686.30) scale(1,1.040)" font-size="35.00" stroke="#000" stroke-width="0.60">0.8</text>
<text class="fb" transform="translate(910.35,655.90) scale(1,1.040)" font-size="35.00" fill="#cc0000" stroke="#cc0000" stroke-width="0.60">0</text>
<text class="fb" transform="translate(910.60,578.56) scale(1,1.040)" font-size="35.00" fill="#cc0000" stroke="#cc0000" stroke-width="0.60">5</text>
<text class="fb" transform="translate(909.35,501.22) scale(1,1.040)" font-size="35.00" fill="#cc0000" stroke="#cc0000" stroke-width="0.60">10</text>
<text class="fb" transform="translate(909.35,423.89) scale(1,1.040)" font-size="35.00" fill="#cc0000" stroke="#cc0000" stroke-width="0.60">15</text>
<text class="fb" transform="translate(910.35,346.55) scale(1,1.040)" font-size="35.00" fill="#cc0000" stroke="#cc0000" stroke-width="0.60">20</text>
<text class="fb" transform="translate(910.35,269.21) scale(1,1.040)" font-size="35.00" fill="#cc0000" stroke="#cc0000" stroke-width="0.60">25</text>
<text class="fb" transform="translate(910.85,191.87) scale(1,1.040)" font-size="35.00" fill="#cc0000" stroke="#cc0000" stroke-width="0.60">30</text>
<text class="fb" transform="translate(910.85,114.54) scale(1,1.040)" font-size="35.00" fill="#cc0000" stroke="#cc0000" stroke-width="0.60">35</text>
<text class="fb" transform="translate(911.10,37.20) scale(1,1.040)" font-size="35.00" fill="#cc0000" stroke="#cc0000" stroke-width="0.60">40</text>
</g>
<g id="labb">
<text class="fb" transform="translate(1108.75,33.20) scale(1,1.040)" font-size="35.00" stroke="#000" stroke-width="0.60">10</text>
<text class="fb" transform="translate(1148.50,17.90) scale(1,1.040)" font-size="23.30" stroke="#000" stroke-width="0.40">-1</text>
<text class="fb" transform="translate(1108.75,111.09) scale(1,1.040)" font-size="35.00" stroke="#000" stroke-width="0.60">10</text>
<text class="fb" transform="translate(1148.50,95.79) scale(1,1.040)" font-size="23.30" stroke="#000" stroke-width="0.40">-2</text>
<text class="fb" transform="translate(1108.75,188.97) scale(1,1.040)" font-size="35.00" stroke="#000" stroke-width="0.60">10</text>
<text class="fb" transform="translate(1148.50,173.67) scale(1,1.040)" font-size="23.30" stroke="#000" stroke-width="0.40">-3</text>
<text class="fb" transform="translate(1108.75,266.86) scale(1,1.040)" font-size="35.00" stroke="#000" stroke-width="0.60">10</text>
<text class="fb" transform="translate(1148.50,251.56) scale(1,1.040)" font-size="23.30" stroke="#000" stroke-width="0.40">-4</text>
<text class="fb" transform="translate(1108.75,344.75) scale(1,1.040)" font-size="35.00" stroke="#000" stroke-width="0.60">10</text>
<text class="fb" transform="translate(1148.50,329.45) scale(1,1.040)" font-size="23.30" stroke="#000" stroke-width="0.40">-5</text>
<text class="fb" transform="translate(1108.75,422.64) scale(1,1.040)" font-size="35.00" stroke="#000" stroke-width="0.60">10</text>
<text class="fb" transform="translate(1148.50,407.34) scale(1,1.040)" font-size="23.30" stroke="#000" stroke-width="0.40">-6</text>
<text class="fb" transform="translate(1108.75,500.52) scale(1,1.040)" font-size="35.00" stroke="#000" stroke-width="0.60">10</text>
<text class="fb" transform="translate(1148.50,485.22) scale(1,1.040)" font-size="23.30" stroke="#000" stroke-width="0.40">-7</text>
<text class="fb" transform="translate(1108.75,578.41) scale(1,1.040)" font-size="35.00" stroke="#000" stroke-width="0.60">10</text>
<text class="fb" transform="translate(1148.50,563.11) scale(1,1.040)" font-size="23.30" stroke="#000" stroke-width="0.40">-8</text>
<text class="fb" transform="translate(1108.75,656.30) scale(1,1.040)" font-size="35.00" stroke="#000" stroke-width="0.60">10</text>
<text class="fb" transform="translate(1148.50,641.00) scale(1,1.040)" font-size="23.30" stroke="#000" stroke-width="0.40">-9</text>
<text class="fb" transform="translate(1158.45,684.20) scale(1,1.040)" font-size="35.00" stroke="#000" stroke-width="0.60">0.0</text>
<text class="fb" transform="translate(1330.21,684.20) scale(1,1.040)" font-size="35.00" stroke="#000" stroke-width="0.60">0.2</text>
<text class="fb" transform="translate(1501.34,684.20) scale(1,1.040)" font-size="35.00" stroke="#000" stroke-width="0.60">0.4</text>
<text class="fb" transform="translate(1673.59,684.20) scale(1,1.040)" font-size="35.00" stroke="#000" stroke-width="0.60">0.6</text>
<text class="fb" transform="translate(1845.22,684.20) scale(1,1.040)" font-size="35.00" stroke="#000" stroke-width="0.60">0.8</text>
<text class="fb" transform="translate(1968.15,653.50) scale(1,1.040)" font-size="35.00" fill="#cc0000" stroke="#cc0000" stroke-width="0.60">0</text>
<text class="fb" transform="translate(1968.40,575.61) scale(1,1.040)" font-size="35.00" fill="#cc0000" stroke="#cc0000" stroke-width="0.60">5</text>
<text class="fb" transform="translate(1967.15,497.72) scale(1,1.040)" font-size="35.00" fill="#cc0000" stroke="#cc0000" stroke-width="0.60">10</text>
<text class="fb" transform="translate(1967.15,419.84) scale(1,1.040)" font-size="35.00" fill="#cc0000" stroke="#cc0000" stroke-width="0.60">15</text>
<text class="fb" transform="translate(1968.15,341.95) scale(1,1.040)" font-size="35.00" fill="#cc0000" stroke="#cc0000" stroke-width="0.60">20</text>
<text class="fb" transform="translate(1968.15,264.06) scale(1,1.040)" font-size="35.00" fill="#cc0000" stroke="#cc0000" stroke-width="0.60">25</text>
<text class="fb" transform="translate(1968.65,186.18) scale(1,1.040)" font-size="35.00" fill="#cc0000" stroke="#cc0000" stroke-width="0.60">30</text>
<text class="fb" transform="translate(1968.65,108.29) scale(1,1.040)" font-size="35.00" fill="#cc0000" stroke="#cc0000" stroke-width="0.60">35</text>
<text class="fb" transform="translate(1968.90,30.40) scale(1,1.040)" font-size="35.00" fill="#cc0000" stroke="#cc0000" stroke-width="0.60">40</text>
</g>
<text class="fb" transform="translate(33.00,453.60) rotate(-90)" font-size="44.40" stroke="#000" stroke-width="0.75">Current (A)</text>
<text class="fb" transform="translate(998.50,423.98) rotate(-90)" font-size="44.50" fill="#cc0000" stroke="#cc0000" stroke-width="0.76">DC Gain</text>
<text class="fbi" transform="translate(442.25,757.80) scale(1,1.040)" font-size="45.50" stroke="#000" stroke-width="0.77">V</text>
<text class="fb" transform="translate(470.90,769.40) scale(1,1.040)" font-size="30.30" stroke="#000" stroke-width="0.52">BE</text>
<text class="fb" transform="translate(526.45,757.80) scale(1,1.040)" font-size="45.50" stroke="#000" stroke-width="0.77">(V)</text>
<text class="fr" transform="translate(451.90,833.20)" font-size="50.00">(a)</text>
<text class="fb" transform="translate(1085.90,449.05) rotate(-90)" font-size="45.10" stroke="#000" stroke-width="0.77">Current (A)</text>
<text class="fb" transform="translate(2049.60,404.07) rotate(-90)" font-size="36.90" fill="#cc0000" stroke="#cc0000" stroke-width="0.63">DC Gain</text>
<text class="fbi" transform="translate(1497.05,755.90) scale(1,1.040)" font-size="45.50" stroke="#000" stroke-width="0.77">V</text>
<text class="fb" transform="translate(1526.00,767.80) scale(1,1.040)" font-size="30.30" stroke="#000" stroke-width="0.52">BE</text>
<text class="fb" transform="translate(1581.65,755.90) scale(1,1.040)" font-size="45.50" stroke="#000" stroke-width="0.77">(V)</text>
<text class="fr" transform="translate(1506.20,833.20)" font-size="50.00">(b)</text>
<text class="fbi" transform="translate(630.95,70.60) scale(1,1.040)" font-size="27.50" stroke="#000" stroke-width="0.47">A</text>
<text class="fb" transform="translate(649.50,81.40) scale(1,1.040)" font-size="18.00" stroke="#000" stroke-width="0.31">E</text>
<text class="fb" transform="translate(669.00,70.60) scale(1,1.040)" font-size="26.50" stroke="#000" stroke-width="0.45">=</text>
<text class="fb" transform="translate(692.35,70.60) scale(1,1.040)" font-size="26.00" stroke="#000" stroke-width="0.44">0.25</text>
<text class="fb" transform="translate(750.60,70.60)" font-size="26.00" stroke="#000" stroke-width="0.44">x</text>
<text class="fb" transform="translate(773.95,70.60) scale(1,1.040)" font-size="26.00" stroke="#000" stroke-width="0.44">10</text>
<text class="fsi" transform="translate(814.50,70.80) skewX(-6.0) scale(1.080,0.950)" font-size="29.00" stroke="#000" stroke-width="0.50">μ</text>
<text class="fb" transform="translate(830.52,70.70)" font-size="26.50" stroke="#000" stroke-width="0.45">m</text>
<text class="fb" transform="translate(854.65,54.50) scale(1,1.040)" font-size="17.50" stroke="#000" stroke-width="0.30">2</text>
<text class="fbi" transform="translate(1679.72,59.20) scale(1,1.040)" font-size="30.50" stroke="#000" stroke-width="0.52">A</text>
<text class="fb" transform="translate(1701.47,70.50) scale(1,1.040)" font-size="20.00" stroke="#000" stroke-width="0.34">E</text>
<text class="fb" transform="translate(1724.17,59.20) scale(1,1.040)" font-size="30.50" stroke="#000" stroke-width="0.52">=</text>
<text class="fb" transform="translate(1749.90,59.20) scale(1,1.040)" font-size="30.50" stroke="#000" stroke-width="0.52">0.25</text>
<text class="fb" transform="translate(1817.75,59.20)" font-size="30.50" stroke="#000" stroke-width="0.52">x</text>
<text class="fb" transform="translate(1843.75,59.20) scale(1,1.040)" font-size="30.00" stroke="#000" stroke-width="0.51">10</text>
<text class="fsi" transform="translate(1891.00,59.30) skewX(-6.0) scale(1.080,0.950)" font-size="32.00" stroke="#000" stroke-width="0.50">μ</text>
<text class="fb" transform="translate(1908.22,59.20)" font-size="30.00" stroke="#000" stroke-width="0.51">m</text>
<text class="fb" transform="translate(1936.60,40.10) scale(1,1.040)" font-size="19.00" stroke="#000" stroke-width="0.32">2</text>
<g id="insa">
<rect x="226.30" y="47.50" width="392.50" height="333.00" fill="#fff"/>
<rect x="226.30" y="47.50" width="392.50" height="333.00" fill="none" stroke="#000" stroke-width="2.40"/>
<line x1="261.98" y1="47.50" x2="261.98" y2="50.30" stroke="#000" stroke-width="2.40" stroke-linecap="butt"/>
<line x1="261.98" y1="380.50" x2="261.98" y2="377.70" stroke="#000" stroke-width="2.40" stroke-linecap="butt"/>
<line x1="297.66" y1="47.50" x2="297.66" y2="53.30" stroke="#000" stroke-width="2.40" stroke-linecap="butt"/>
<line x1="297.66" y1="380.50" x2="297.66" y2="374.70" stroke="#000" stroke-width="2.40" stroke-linecap="butt"/>
<line x1="333.35" y1="47.50" x2="333.35" y2="50.30" stroke="#000" stroke-width="2.40" stroke-linecap="butt"/>
<line x1="333.35" y1="380.50" x2="333.35" y2="377.70" stroke="#000" stroke-width="2.40" stroke-linecap="butt"/>
<line x1="369.03" y1="47.50" x2="369.03" y2="53.30" stroke="#000" stroke-width="2.40" stroke-linecap="butt"/>
<line x1="369.03" y1="380.50" x2="369.03" y2="374.70" stroke="#000" stroke-width="2.40" stroke-linecap="butt"/>
<line x1="404.71" y1="47.50" x2="404.71" y2="50.30" stroke="#000" stroke-width="2.40" stroke-linecap="butt"/>
<line x1="404.71" y1="380.50" x2="404.71" y2="377.70" stroke="#000" stroke-width="2.40" stroke-linecap="butt"/>
<line x1="440.39" y1="47.50" x2="440.39" y2="53.30" stroke="#000" stroke-width="2.40" stroke-linecap="butt"/>
<line x1="440.39" y1="380.50" x2="440.39" y2="374.70" stroke="#000" stroke-width="2.40" stroke-linecap="butt"/>
<line x1="476.07" y1="47.50" x2="476.07" y2="50.30" stroke="#000" stroke-width="2.40" stroke-linecap="butt"/>
<line x1="476.07" y1="380.50" x2="476.07" y2="377.70" stroke="#000" stroke-width="2.40" stroke-linecap="butt"/>
<line x1="511.75" y1="47.50" x2="511.75" y2="53.30" stroke="#000" stroke-width="2.40" stroke-linecap="butt"/>
<line x1="511.75" y1="380.50" x2="511.75" y2="374.70" stroke="#000" stroke-width="2.40" stroke-linecap="butt"/>
<line x1="547.44" y1="47.50" x2="547.44" y2="50.30" stroke="#000" stroke-width="2.40" stroke-linecap="butt"/>
<line x1="547.44" y1="380.50" x2="547.44" y2="377.70" stroke="#000" stroke-width="2.40" stroke-linecap="butt"/>
<line x1="583.12" y1="47.50" x2="583.12" y2="53.30" stroke="#000" stroke-width="2.40" stroke-linecap="butt"/>
<line x1="583.12" y1="380.50" x2="583.12" y2="374.70" stroke="#000" stroke-width="2.40" stroke-linecap="butt"/>
<line x1="226.30" y1="350.23" x2="229.10" y2="350.23" stroke="#000" stroke-width="2.40" stroke-linecap="butt"/>
<line x1="618.80" y1="350.23" x2="616.00" y2="350.23" stroke="#000" stroke-width="2.40" stroke-linecap="butt"/>
<line x1="226.30" y1="319.95" x2="232.10" y2="319.95" stroke="#000" stroke-width="2.40" stroke-linecap="butt"/>
<line x1="618.80" y1="319.95" x2="613.00" y2="319.95" stroke="#000" stroke-width="2.40" stroke-linecap="butt"/>
<line x1="226.30" y1="289.68" x2="229.10" y2="289.68" stroke="#000" stroke-width="2.40" stroke-linecap="butt"/>
<line x1="618.80" y1="289.68" x2="616.00" y2="289.68" stroke="#000" stroke-width="2.40" stroke-linecap="butt"/>
<line x1="226.30" y1="259.41" x2="232.10" y2="259.41" stroke="#000" stroke-width="2.40" stroke-linecap="butt"/>
<line x1="618.80" y1="259.41" x2="613.00" y2="259.41" stroke="#000" stroke-width="2.40" stroke-linecap="butt"/>
<line x1="226.30" y1="229.14" x2="229.10" y2="229.14" stroke="#000" stroke-width="2.40" stroke-linecap="butt"/>
<line x1="618.80" y1="229.14" x2="616.00" y2="229.14" stroke="#000" stroke-width="2.40" stroke-linecap="butt"/>
<line x1="226.30" y1="198.86" x2="232.10" y2="198.86" stroke="#000" stroke-width="2.40" stroke-linecap="butt"/>
<line x1="618.80" y1="198.86" x2="613.00" y2="198.86" stroke="#000" stroke-width="2.40" stroke-linecap="butt"/>
<line x1="226.30" y1="168.59" x2="229.10" y2="168.59" stroke="#000" stroke-width="2.40" stroke-linecap="butt"/>
<line x1="618.80" y1="168.59" x2="616.00" y2="168.59" stroke="#000" stroke-width="2.40" stroke-linecap="butt"/>
<line x1="226.30" y1="138.32" x2="232.10" y2="138.32" stroke="#000" stroke-width="2.40" stroke-linecap="butt"/>
<line x1="618.80" y1="138.32" x2="613.00" y2="138.32" stroke="#000" stroke-width="2.40" stroke-linecap="butt"/>
<line x1="226.30" y1="108.05" x2="229.10" y2="108.05" stroke="#000" stroke-width="2.40" stroke-linecap="butt"/>
<line x1="618.80" y1="108.05" x2="616.00" y2="108.05" stroke="#000" stroke-width="2.40" stroke-linecap="butt"/>
<line x1="226.30" y1="77.77" x2="232.10" y2="77.77" stroke="#000" stroke-width="2.40" stroke-linecap="butt"/>
<line x1="618.80" y1="77.77" x2="613.00" y2="77.77" stroke="#000" stroke-width="2.40" stroke-linecap="butt"/>
<path d="M226.3,380.4 L228.3,380.4 L230.3,380.4 L232.3,380.4 L234.3,380.4 L236.3,380.4 L238.3,380.4 L240.3,380.4 L242.3,380.4 L244.3,380.4 L246.3,380.4 L248.3,380.4 L250.3,380.4 L252.3,380.4 L254.3,380.4 L256.3,380.4 L258.3,380.4 L260.3,380.4 L262.3,380.4 L264.3,380.4 L266.3,380.4 L268.3,380.4 L270.3,380.4 L272.3,380.4 L274.3,380.4 L276.3,380.4 L278.3,380.4 L280.3,380.4 L282.3,380.4 L284.3,380.4 L286.2,380.4 L288.2,380.4 L290.2,380.4 L292.2,380.4 L294.2,380.4 L296.2,380.4 L298.2,380.4 L300.2,380.4 L302.2,380.4 L304.2,380.4 L306.2,380.4 L308.2,380.4 L310.2,380.4 L312.2,380.4 L314.2,380.4 L316.2,380.4 L318.2,380.4 L320.2,380.4 L322.2,380.4 L324.2,380.4 L326.2,380.4 L328.2,380.4 L330.2,380.4 L332.2,380.4 L334.2,380.4 L336.2,380.4 L338.2,380.3 L340.2,380.3 L342.2,380.3 L344.2,380.3 L346.2,380.3 L348.2,380.3 L350.2,380.3 L352.2,380.3 L354.2,380.3 L356.2,380.3 L358.2,380.3 L360.2,380.3 L362.2,380.3 L364.2,380.3 L366.2,380.3 L368.2,380.3 L370.2,380.3 L372.2,380.3 L374.2,380.3 L376.2,380.3 L378.2,380.3 L380.2,380.3 L382.2,380.3 L384.2,380.3 L386.2,380.3 L388.2,380.3 L390.2,380.3 L392.2,380.3 L394.2,380.3 L396.2,380.2 L398.2,380.2 L400.2,380.2 L402.2,380.2 L404.2,380.2 L406.1,380.2 L408.1,380.2 L410.1,380.1 L412.1,380.1 L414.1,380.1 L416.1,380.1 L418.1,380.1 L420.1,380.0 L422.1,380.0 L424.1,380.0 L426.1,380.0 L428.1,380.0 L430.1,379.9 L432.1,379.9 L434.1,379.9 L436.1,379.9 L438.1,379.8 L440.1,379.8 L442.1,379.8 L444.1,379.7 L446.1,379.7 L448.1,379.6 L450.1,379.6 L452.1,379.5 L454.1,379.4 L456.1,379.4 L458.1,379.3 L460.1,379.2 L462.1,379.1 L464.1,379.0 L466.1,378.9 L468.1,378.8 L470.1,378.7 L472.1,378.6 L474.1,378.5 L476.1,378.4 L478.1,378.3 L480.1,378.1 L482.1,378.0 L484.1,377.8 L486.1,377.7 L488.1,377.5 L490.1,377.3 L492.1,377.1 L494.1,376.9 L496.1,376.7 L498.1,376.4 L500.1,376.2 L502.1,375.8 L504.1,375.4 L506.1,374.8 L508.1,374.2 L510.1,373.6 L512.1,373.0 L514.1,372.4 L516.1,371.8 L518.1,371.2 L520.1,370.4 L522.1,369.7 L524.1,368.8 L526.0,367.9 L528.0,366.9 L530.0,365.8 L532.0,364.7 L534.0,363.5 L536.0,362.2 L538.0,360.8 L540.0,359.2 L542.0,357.2 L544.0,354.8 L546.0,351.9 L548.0,348.8 L550.0,345.6 L552.0,342.0 L554.0,337.6 L556.0,332.1 L558.0,325.6 L560.0,318.1 L562.0,309.2 L564.0,299.2 L566.0,288.7 L568.0,276.9 L570.0,262.1 L572.0,243.4 L574.0,224.3 L576.0,204.3 L578.0,181.4 L580.0,154.8 L582.0,122.3 L584.0,77.6 L618.8,77.6" fill="none" stroke="#008000" stroke-width="2.7" stroke-linejoin="round" clip-path="url(#cia)"/>
<line x1="224.90" y1="77.77" x2="618.80" y2="77.77" stroke="#000" stroke-width="2.50" stroke-dasharray="11.60 10.30" stroke-dashoffset="0.00"/>
<line x1="224.90" y1="350.23" x2="618.80" y2="350.23" stroke="#000" stroke-width="2.50" stroke-dasharray="11.60 10.30" stroke-dashoffset="0.00"/>
<text class="fb" transform="translate(206.75,388.70) scale(1,1.040)" font-size="23.00" stroke="#000" stroke-width="0.39">0</text>
<text class="fb" transform="translate(206.50,328.15) scale(1,1.040)" font-size="23.00" stroke="#000" stroke-width="0.39">2</text>
<text class="fb" transform="translate(205.75,267.61) scale(1,1.040)" font-size="23.00" stroke="#000" stroke-width="0.39">4</text>
<text class="fb" transform="translate(206.50,207.06) scale(1,1.040)" font-size="23.00" stroke="#000" stroke-width="0.39">6</text>
<text class="fb" transform="translate(206.50,146.52) scale(1,1.040)" font-size="23.00" stroke="#000" stroke-width="0.39">8</text>
<text class="fb" transform="translate(194.00,85.97) scale(1,1.040)" font-size="23.00" stroke="#000" stroke-width="0.39">10</text>
<text class="fb" transform="translate(221.12,402.80) scale(1,1.040)" font-size="17.50" stroke="#000" stroke-width="0.30">0</text>
<text class="fb" transform="translate(292.24,402.80) scale(1,1.040)" font-size="17.50" stroke="#000" stroke-width="0.30">1</text>
<text class="fb" transform="translate(363.98,402.80) scale(1,1.040)" font-size="17.50" stroke="#000" stroke-width="0.30">2</text>
<text class="fb" transform="translate(435.34,402.80) scale(1,1.040)" font-size="17.50" stroke="#000" stroke-width="0.30">3</text>
<text class="fb" transform="translate(506.45,402.80) scale(1,1.040)" font-size="17.50" stroke="#000" stroke-width="0.30">4</text>
<text class="fb" transform="translate(577.94,402.80) scale(1,1.040)" font-size="17.50" stroke="#000" stroke-width="0.30">5</text>
<text class="fb" transform="translate(239.40,106.20)" font-size="23.30" stroke="#000" stroke-width="0.40">10 kA/cm</text>
<text class="fb" transform="translate(342.01,96.88) scale(1,1.040)" font-size="15.50" stroke="#000" stroke-width="0.26">2</text>
<text class="fb" transform="translate(244.90,341.00)" font-size="23.30" stroke="#000" stroke-width="0.40">1 kA/cm</text>
<text class="fb" transform="translate(334.56,331.68) scale(1,1.040)" font-size="15.50" stroke="#000" stroke-width="0.26">2</text>
<line x1="453.60" y1="118.60" x2="568.58" y2="84.01" stroke="#000" stroke-width="2.20" stroke-linecap="butt"/>
<polygon points="583.90,79.40 568.85,88.37 566.40,80.23" fill="#000"/>
<rect x="291.30" y="118.90" width="161.90" height="41.00" fill="#fff" stroke="#000" stroke-width="2.10"/>
<text class="fbi" transform="translate(295.20,145.80) scale(1,1.040)" font-size="25.00" stroke="#000" stroke-width="0.43">BV</text>
<text class="fb" transform="translate(327.95,152.80) scale(1,1.040)" font-size="16.80" stroke="#000" stroke-width="0.29">CEO</text>
<text class="fb" transform="translate(371.00,145.80) scale(1,1.040)" font-size="25.00" stroke="#000" stroke-width="0.43">=</text>
<text class="fb" transform="translate(393.25,145.80) scale(1,1.040)" font-size="25.00" stroke="#000" stroke-width="0.43">5.0</text>
<text class="fb" transform="translate(434.15,145.80) scale(1,1.040)" font-size="25.00" stroke="#000" stroke-width="0.43">V</text>
<line x1="507.40" y1="304.90" x2="536.70" y2="338.02" stroke="#000" stroke-width="2.20" stroke-linecap="butt"/>
<polygon points="547.30,350.00 532.85,340.08 539.22,334.45" fill="#000"/>
<rect x="345.00" y="264.30" width="162.20" height="40.40" fill="#fff" stroke="#000" stroke-width="2.10"/>
<text class="fbi" transform="translate(349.30,291.60) scale(1,1.040)" font-size="25.00" stroke="#000" stroke-width="0.43">BV</text>
<text class="fb" transform="translate(382.05,298.60) scale(1,1.040)" font-size="16.80" stroke="#000" stroke-width="0.29">CEO</text>
<text class="fb" transform="translate(424.40,291.60) scale(1,1.040)" font-size="25.00" stroke="#000" stroke-width="0.43">=</text>
<text class="fb" transform="translate(446.45,291.60) scale(1,1.040)" font-size="25.00" stroke="#000" stroke-width="0.43">4.5</text>
<text class="fb" transform="translate(486.75,291.60) scale(1,1.040)" font-size="25.00" stroke="#000" stroke-width="0.43">V</text>
<text class="fbi" transform="translate(171.30,270.75) rotate(-90) scale(1,1.040)" font-size="24.00" stroke="#000" stroke-width="0.41">J</text>
<text class="fb" transform="translate(176.80,258.45) rotate(-90) scale(1,1.040)" font-size="16.00" stroke="#000" stroke-width="0.27">C</text>
<text class="fb" transform="translate(171.30,239.18) rotate(-90)" font-size="24.00" stroke="#000" stroke-width="0.41">(kA/cm</text>
<text class="fb" transform="translate(161.70,159.15) rotate(-90) scale(1,1.040)" font-size="16.00" stroke="#000" stroke-width="0.27">2</text>
<text class="fb" transform="translate(171.30,150.25) rotate(-90) scale(1,1.040)" font-size="24.00" stroke="#000" stroke-width="0.41">)</text>
<text class="fbi" transform="translate(385.00,438.90) scale(1,1.040)" font-size="23.50" stroke="#000" stroke-width="0.40">V</text>
<text class="fb" transform="translate(400.75,445.20) scale(1,1.040)" font-size="16.00" stroke="#000" stroke-width="0.27">CE</text>
<text class="fb" transform="translate(429.05,438.90) scale(1,1.040)" font-size="23.50" stroke="#000" stroke-width="0.40">(V)</text>
</g>
<g id="insb">
<rect x="1263.40" y="37.30" width="411.00" height="322.90" fill="#fff"/>
<rect x="1263.40" y="37.30" width="411.00" height="322.90" fill="none" stroke="#000" stroke-width="2.40"/>
<line x1="1295.02" y1="37.30" x2="1295.02" y2="40.10" stroke="#000" stroke-width="2.40" stroke-linecap="butt"/>
<line x1="1295.02" y1="360.20" x2="1295.02" y2="357.40" stroke="#000" stroke-width="2.40" stroke-linecap="butt"/>
<line x1="1326.63" y1="37.30" x2="1326.63" y2="43.10" stroke="#000" stroke-width="2.40" stroke-linecap="butt"/>
<line x1="1326.63" y1="360.20" x2="1326.63" y2="354.40" stroke="#000" stroke-width="2.40" stroke-linecap="butt"/>
<line x1="1358.25" y1="37.30" x2="1358.25" y2="40.10" stroke="#000" stroke-width="2.40" stroke-linecap="butt"/>
<line x1="1358.25" y1="360.20" x2="1358.25" y2="357.40" stroke="#000" stroke-width="2.40" stroke-linecap="butt"/>
<line x1="1389.86" y1="37.30" x2="1389.86" y2="43.10" stroke="#000" stroke-width="2.40" stroke-linecap="butt"/>
<line x1="1389.86" y1="360.20" x2="1389.86" y2="354.40" stroke="#000" stroke-width="2.40" stroke-linecap="butt"/>
<line x1="1421.48" y1="37.30" x2="1421.48" y2="40.10" stroke="#000" stroke-width="2.40" stroke-linecap="butt"/>
<line x1="1421.48" y1="360.20" x2="1421.48" y2="357.40" stroke="#000" stroke-width="2.40" stroke-linecap="butt"/>
<line x1="1453.09" y1="37.30" x2="1453.09" y2="43.10" stroke="#000" stroke-width="2.40" stroke-linecap="butt"/>
<line x1="1453.09" y1="360.20" x2="1453.09" y2="354.40" stroke="#000" stroke-width="2.40" stroke-linecap="butt"/>
<line x1="1484.71" y1="37.30" x2="1484.71" y2="40.10" stroke="#000" stroke-width="2.40" stroke-linecap="butt"/>
<line x1="1484.71" y1="360.20" x2="1484.71" y2="357.40" stroke="#000" stroke-width="2.40" stroke-linecap="butt"/>
<line x1="1516.32" y1="37.30" x2="1516.32" y2="43.10" stroke="#000" stroke-width="2.40" stroke-linecap="butt"/>
<line x1="1516.32" y1="360.20" x2="1516.32" y2="354.40" stroke="#000" stroke-width="2.40" stroke-linecap="butt"/>
<line x1="1547.94" y1="37.30" x2="1547.94" y2="40.10" stroke="#000" stroke-width="2.40" stroke-linecap="butt"/>
<line x1="1547.94" y1="360.20" x2="1547.94" y2="357.40" stroke="#000" stroke-width="2.40" stroke-linecap="butt"/>
<line x1="1579.55" y1="37.30" x2="1579.55" y2="43.10" stroke="#000" stroke-width="2.40" stroke-linecap="butt"/>
<line x1="1579.55" y1="360.20" x2="1579.55" y2="354.40" stroke="#000" stroke-width="2.40" stroke-linecap="butt"/>
<line x1="1611.17" y1="37.30" x2="1611.17" y2="40.10" stroke="#000" stroke-width="2.40" stroke-linecap="butt"/>
<line x1="1611.17" y1="360.20" x2="1611.17" y2="357.40" stroke="#000" stroke-width="2.40" stroke-linecap="butt"/>
<line x1="1642.78" y1="37.30" x2="1642.78" y2="43.10" stroke="#000" stroke-width="2.40" stroke-linecap="butt"/>
<line x1="1642.78" y1="360.20" x2="1642.78" y2="354.40" stroke="#000" stroke-width="2.40" stroke-linecap="butt"/>
<line x1="1263.40" y1="330.85" x2="1266.20" y2="330.85" stroke="#000" stroke-width="2.40" stroke-linecap="butt"/>
<line x1="1674.40" y1="330.85" x2="1671.60" y2="330.85" stroke="#000" stroke-width="2.40" stroke-linecap="butt"/>
<line x1="1263.40" y1="301.49" x2="1269.20" y2="301.49" stroke="#000" stroke-width="2.40" stroke-linecap="butt"/>
<line x1="1674.40" y1="301.49" x2="1668.60" y2="301.49" stroke="#000" stroke-width="2.40" stroke-linecap="butt"/>
<line x1="1263.40" y1="272.14" x2="1266.20" y2="272.14" stroke="#000" stroke-width="2.40" stroke-linecap="butt"/>
<line x1="1674.40" y1="272.14" x2="1671.60" y2="272.14" stroke="#000" stroke-width="2.40" stroke-linecap="butt"/>
<line x1="1263.40" y1="242.78" x2="1269.20" y2="242.78" stroke="#000" stroke-width="2.40" stroke-linecap="butt"/>
<line x1="1674.40" y1="242.78" x2="1668.60" y2="242.78" stroke="#000" stroke-width="2.40" stroke-linecap="butt"/>
<line x1="1263.40" y1="213.43" x2="1266.20" y2="213.43" stroke="#000" stroke-width="2.40" stroke-linecap="butt"/>
<line x1="1674.40" y1="213.43" x2="1671.60" y2="213.43" stroke="#000" stroke-width="2.40" stroke-linecap="butt"/>
<line x1="1263.40" y1="184.07" x2="1269.20" y2="184.07" stroke="#000" stroke-width="2.40" stroke-linecap="butt"/>
<line x1="1674.40" y1="184.07" x2="1668.60" y2="184.07" stroke="#000" stroke-width="2.40" stroke-linecap="butt"/>
<line x1="1263.40" y1="154.72" x2="1266.20" y2="154.72" stroke="#000" stroke-width="2.40" stroke-linecap="butt"/>
<line x1="1674.40" y1="154.72" x2="1671.60" y2="154.72" stroke="#000" stroke-width="2.40" stroke-linecap="butt"/>
<line x1="1263.40" y1="125.36" x2="1269.20" y2="125.36" stroke="#000" stroke-width="2.40" stroke-linecap="butt"/>
<line x1="1674.40" y1="125.36" x2="1668.60" y2="125.36" stroke="#000" stroke-width="2.40" stroke-linecap="butt"/>
<line x1="1263.40" y1="96.01" x2="1266.20" y2="96.01" stroke="#000" stroke-width="2.40" stroke-linecap="butt"/>
<line x1="1674.40" y1="96.01" x2="1671.60" y2="96.01" stroke="#000" stroke-width="2.40" stroke-linecap="butt"/>
<line x1="1263.40" y1="66.65" x2="1269.20" y2="66.65" stroke="#000" stroke-width="2.40" stroke-linecap="butt"/>
<line x1="1674.40" y1="66.65" x2="1668.60" y2="66.65" stroke="#000" stroke-width="2.40" stroke-linecap="butt"/>
<path d="M1263.4,360.1 L1265.4,360.1 L1267.4,360.1 L1269.4,360.1 L1271.4,360.1 L1273.4,360.1 L1275.4,360.1 L1277.4,360.1 L1279.4,360.1 L1281.4,360.1 L1283.4,360.1 L1285.4,360.1 L1287.4,360.1 L1289.4,360.1 L1291.4,360.1 L1293.4,360.1 L1295.4,360.1 L1297.4,360.1 L1299.4,360.1 L1301.4,360.1 L1303.4,360.1 L1305.4,360.1 L1307.4,360.1 L1309.4,360.1 L1311.4,360.1 L1313.4,360.1 L1315.4,360.1 L1317.4,360.1 L1319.4,360.1 L1321.4,360.1 L1323.4,360.1 L1325.4,360.1 L1327.4,360.1 L1329.4,360.1 L1331.4,360.1 L1333.4,360.1 L1335.4,360.1 L1337.4,360.1 L1339.4,360.1 L1341.4,360.1 L1343.4,360.1 L1345.4,360.1 L1347.4,360.1 L1349.4,360.1 L1351.4,360.1 L1353.4,360.1 L1355.4,360.1 L1357.4,360.1 L1359.4,360.1 L1361.4,360.1 L1363.4,360.1 L1365.4,360.1 L1367.4,360.1 L1369.4,360.1 L1371.4,360.1 L1373.4,360.1 L1375.4,360.1 L1377.4,360.1 L1379.4,360.1 L1381.4,360.1 L1383.4,360.1 L1385.4,360.1 L1387.4,360.1 L1389.4,360.1 L1391.4,360.1 L1393.4,360.1 L1395.4,360.1 L1397.4,360.1 L1399.4,360.1 L1401.4,360.1 L1403.4,360.0 L1405.4,360.0 L1407.4,360.0 L1409.4,360.0 L1411.4,360.0 L1413.4,360.0 L1415.4,360.0 L1417.4,360.0 L1419.4,360.0 L1421.4,360.0 L1423.4,360.0 L1425.4,360.0 L1427.4,360.0 L1429.4,360.0 L1431.4,360.0 L1433.4,360.0 L1435.4,360.0 L1437.4,360.0 L1439.4,360.0 L1441.4,360.0 L1443.4,360.0 L1445.4,360.0 L1447.4,360.0 L1449.4,360.0 L1451.4,360.0 L1453.5,360.0 L1455.5,360.0 L1457.5,360.0 L1459.5,359.9 L1461.5,359.9 L1463.5,359.9 L1465.5,359.9 L1467.5,359.9 L1469.5,359.8 L1471.5,359.8 L1473.5,359.8 L1475.5,359.7 L1477.5,359.7 L1479.5,359.7 L1481.5,359.6 L1483.5,359.6 L1485.5,359.6 L1487.5,359.5 L1489.5,359.5 L1491.5,359.4 L1493.5,359.4 L1495.5,359.3 L1497.5,359.3 L1499.5,359.2 L1501.5,359.1 L1503.5,359.1 L1505.5,359.0 L1507.5,358.9 L1509.5,358.8 L1511.5,358.6 L1513.5,358.4 L1515.5,358.1 L1517.5,357.9 L1519.5,357.7 L1521.5,357.5 L1523.5,357.3 L1525.5,357.1 L1527.5,357.0 L1529.5,356.9 L1531.5,356.7 L1533.5,356.6 L1535.5,356.5 L1537.5,356.4 L1539.5,356.2 L1541.5,356.1 L1543.5,356.0 L1545.5,355.9 L1547.5,355.8 L1549.5,355.6 L1551.5,355.4 L1553.5,355.1 L1555.5,354.7 L1557.5,354.3 L1559.5,353.7 L1561.5,353.1 L1563.5,352.4 L1565.5,351.6 L1567.5,350.6 L1569.5,349.6 L1571.5,348.4 L1573.5,347.0 L1575.5,345.5 L1577.5,343.7 L1579.5,341.5 L1581.5,339.1 L1583.5,336.6 L1585.5,333.8 L1587.5,330.9 L1589.5,328.1 L1591.5,325.2 L1593.5,321.8 L1595.5,317.8 L1597.5,313.6 L1599.5,309.3 L1601.5,304.9 L1603.5,300.4 L1605.5,295.4 L1607.5,290.2 L1609.5,284.5 L1611.5,278.1 L1613.5,270.9 L1615.5,262.0 L1617.5,251.3 L1619.5,239.7 L1621.5,226.8 L1623.5,213.5 L1625.5,200.6 L1627.5,187.7 L1629.5,174.1 L1631.5,159.0 L1633.5,145.2 L1635.5,133.5 L1637.5,120.9 L1639.5,106.7 L1641.5,89.3 L1643.5,66.7" fill="none" stroke="#008000" stroke-width="3.5" stroke-linejoin="round" clip-path="url(#cib)"/>
<line x1="1263.20" y1="66.65" x2="1674.40" y2="66.65" stroke="#000" stroke-width="2.50" stroke-dasharray="12.50 12.23" stroke-dashoffset="0.00"/>
<line x1="1263.20" y1="330.85" x2="1674.40" y2="330.85" stroke="#000" stroke-width="2.50" stroke-dasharray="12.50 12.23" stroke-dashoffset="0.00"/>
<text class="fb" transform="translate(1243.75,368.20) scale(1,1.040)" font-size="23.00" stroke="#000" stroke-width="0.39">0</text>
<text class="fb" transform="translate(1243.50,309.49) scale(1,1.040)" font-size="23.00" stroke="#000" stroke-width="0.39">2</text>
<text class="fb" transform="translate(1242.75,250.78) scale(1,1.040)" font-size="23.00" stroke="#000" stroke-width="0.39">4</text>
<text class="fb" transform="translate(1243.50,192.07) scale(1,1.040)" font-size="23.00" stroke="#000" stroke-width="0.39">6</text>
<text class="fb" transform="translate(1243.50,133.36) scale(1,1.040)" font-size="23.00" stroke="#000" stroke-width="0.39">8</text>
<text class="fb" transform="translate(1231.00,74.65) scale(1,1.040)" font-size="23.00" stroke="#000" stroke-width="0.39">10</text>
<text class="fb" transform="translate(1257.35,384.60) scale(1,1.040)" font-size="21.00" stroke="#000" stroke-width="0.36">0</text>
<text class="fb" transform="translate(1320.21,384.60) scale(1,1.040)" font-size="21.00" stroke="#000" stroke-width="0.36">1</text>
<text class="fb" transform="translate(1383.81,384.60) scale(1,1.040)" font-size="21.00" stroke="#000" stroke-width="0.36">2</text>
<text class="fb" transform="translate(1447.04,384.60) scale(1,1.040)" font-size="21.00" stroke="#000" stroke-width="0.36">3</text>
<text class="fb" transform="translate(1510.15,384.60) scale(1,1.040)" font-size="21.00" stroke="#000" stroke-width="0.36">4</text>
<text class="fb" transform="translate(1573.38,384.60) scale(1,1.040)" font-size="21.00" stroke="#000" stroke-width="0.36">5</text>
<text class="fb" transform="translate(1636.61,384.60) scale(1,1.040)" font-size="21.00" stroke="#000" stroke-width="0.36">6</text>
<text class="fb" transform="translate(1268.50,90.50)" font-size="24.40" stroke="#000" stroke-width="0.41">10 kA/cm</text>
<text class="fb" transform="translate(1375.95,80.74) scale(1,1.040)" font-size="16.00" stroke="#000" stroke-width="0.27">2</text>
<text class="fb" transform="translate(1272.50,328.10)" font-size="24.40" stroke="#000" stroke-width="0.41">1 kA/cm</text>
<text class="fb" transform="translate(1366.38,318.34) scale(1,1.040)" font-size="16.00" stroke="#000" stroke-width="0.27">2</text>
<line x1="1564.30" y1="97.90" x2="1627.66" y2="73.96" stroke="#000" stroke-width="2.20" stroke-linecap="butt"/>
<polygon points="1644.50,67.60 1628.32,78.52 1625.14,70.11" fill="#000"/>
<rect x="1394.30" y="98.30" width="169.60" height="39.20" fill="#fff" stroke="#000" stroke-width="2.10"/>
<text class="fbi" transform="translate(1398.30,123.60) scale(1,1.040)" font-size="26.00" stroke="#000" stroke-width="0.44">BV</text>
<text class="fb" transform="translate(1432.95,130.60) scale(1,1.040)" font-size="17.50" stroke="#000" stroke-width="0.30">CEO</text>
<text class="fb" transform="translate(1477.80,123.60) scale(1,1.040)" font-size="26.00" stroke="#000" stroke-width="0.44">=</text>
<text class="fb" transform="translate(1500.10,123.60) scale(1,1.040)" font-size="26.00" stroke="#000" stroke-width="0.44">6.0</text>
<text class="fb" transform="translate(1542.35,123.60) scale(1,1.040)" font-size="26.00" stroke="#000" stroke-width="0.44">V</text>
<line x1="1556.60" y1="314.60" x2="1571.84" y2="322.07" stroke="#000" stroke-width="2.20" stroke-linecap="butt"/>
<polygon points="1588.00,330.00 1568.96,325.67 1572.92,317.59" fill="#000"/>
<rect x="1387.00" y="275.90" width="169.20" height="38.50" fill="#fff" stroke="#000" stroke-width="2.10"/>
<text class="fbi" transform="translate(1390.80,301.40) scale(1,1.040)" font-size="26.00" stroke="#000" stroke-width="0.44">BV</text>
<text class="fb" transform="translate(1425.65,308.40) scale(1,1.040)" font-size="17.50" stroke="#000" stroke-width="0.30">CEO</text>
<text class="fb" transform="translate(1470.20,301.40) scale(1,1.040)" font-size="26.00" stroke="#000" stroke-width="0.44">=</text>
<text class="fb" transform="translate(1493.15,301.40) scale(1,1.040)" font-size="26.00" stroke="#000" stroke-width="0.44">5.1</text>
<text class="fb" transform="translate(1534.75,301.40) scale(1,1.040)" font-size="26.00" stroke="#000" stroke-width="0.44">V</text>
<text class="fbi" transform="translate(1216.50,261.75) rotate(-90) scale(1,1.040)" font-size="23.30" stroke="#000" stroke-width="0.40">J</text>
<text class="fb" transform="translate(1222.00,249.59) rotate(-90) scale(1,1.040)" font-size="15.60" stroke="#000" stroke-width="0.27">C</text>
<text class="fb" transform="translate(1216.50,231.05) rotate(-90)" font-size="23.30" stroke="#000" stroke-width="0.40">(kA/cm</text>
<text class="fb" transform="translate(1207.18,153.37) rotate(-90) scale(1,1.040)" font-size="15.60" stroke="#000" stroke-width="0.27">2</text>
<text class="fb" transform="translate(1216.50,144.69) rotate(-90) scale(1,1.040)" font-size="23.30" stroke="#000" stroke-width="0.40">)</text>
<text class="fbi" transform="translate(1430.40,421.80) scale(1,1.040)" font-size="23.50" stroke="#000" stroke-width="0.40">V</text>
<text class="fb" transform="translate(1445.85,428.10) scale(1,1.040)" font-size="16.00" stroke="#000" stroke-width="0.27">CE</text>
<text class="fb" transform="translate(1475.55,421.80) scale(1,1.040)" font-size="23.50" stroke="#000" stroke-width="0.40">(V)</text>
</g>
<line x1="166.40" y1="430.10" x2="241.40" y2="430.10" stroke="#008000" stroke-width="5.00" stroke-linecap="round"/>
<line x1="166.40" y1="480.40" x2="241.40" y2="480.40" stroke="#0000ff" stroke-width="5.00" stroke-linecap="round"/>
<line x1="166.40" y1="533.90" x2="241.40" y2="533.90" stroke="#cc0000" stroke-width="5.00" stroke-linecap="round"/>
<text class="fbi" transform="translate(260.30,441.80) scale(1,1.040)" font-size="34.00" stroke="#000" stroke-width="0.58">I</text>
<text class="fb" transform="translate(270.10,450.20) scale(1,1.040)" font-size="21.00" stroke="#000" stroke-width="0.36">B</text>
<text class="fbi" transform="translate(260.30,491.70) scale(1,1.040)" font-size="34.00" stroke="#000" stroke-width="0.58">I</text>
<text class="fb" transform="translate(270.85,500.70) scale(1,1.040)" font-size="21.00" stroke="#000" stroke-width="0.36">C</text>
<text class="fsi" transform="translate(261.30,544.60) skewX(-9.0) scale(1.030,0.900)" font-size="37.00" stroke="#000" stroke-width="0.80">β</text>
<line x1="1221.70" y1="439.60" x2="1297.00" y2="439.60" stroke="#008000" stroke-width="5.00" stroke-linecap="round"/>
<line x1="1221.70" y1="490.60" x2="1297.00" y2="490.60" stroke="#0000ff" stroke-width="5.00" stroke-linecap="round"/>
<line x1="1221.70" y1="544.10" x2="1297.00" y2="544.10" stroke="#cc0000" stroke-width="5.00" stroke-linecap="round"/>
<text class="fbi" transform="translate(1316.30,451.40) scale(1,1.040)" font-size="34.00" stroke="#000" stroke-width="0.58">I</text>
<text class="fb" transform="translate(1325.50,459.80) scale(1,1.040)" font-size="21.00" stroke="#000" stroke-width="0.36">B</text>
<text class="fbi" transform="translate(1316.30,501.90) scale(1,1.040)" font-size="34.00" stroke="#000" stroke-width="0.58">I</text>
<text class="fb" transform="translate(1326.25,510.90) scale(1,1.040)" font-size="21.00" stroke="#000" stroke-width="0.36">C</text>
<text class="fsi" transform="translate(1317.30,555.10) skewX(-9.0) scale(1.030,0.900)" font-size="37.00" stroke="#000" stroke-width="0.80">β</text>
</svg>
</body></html>
